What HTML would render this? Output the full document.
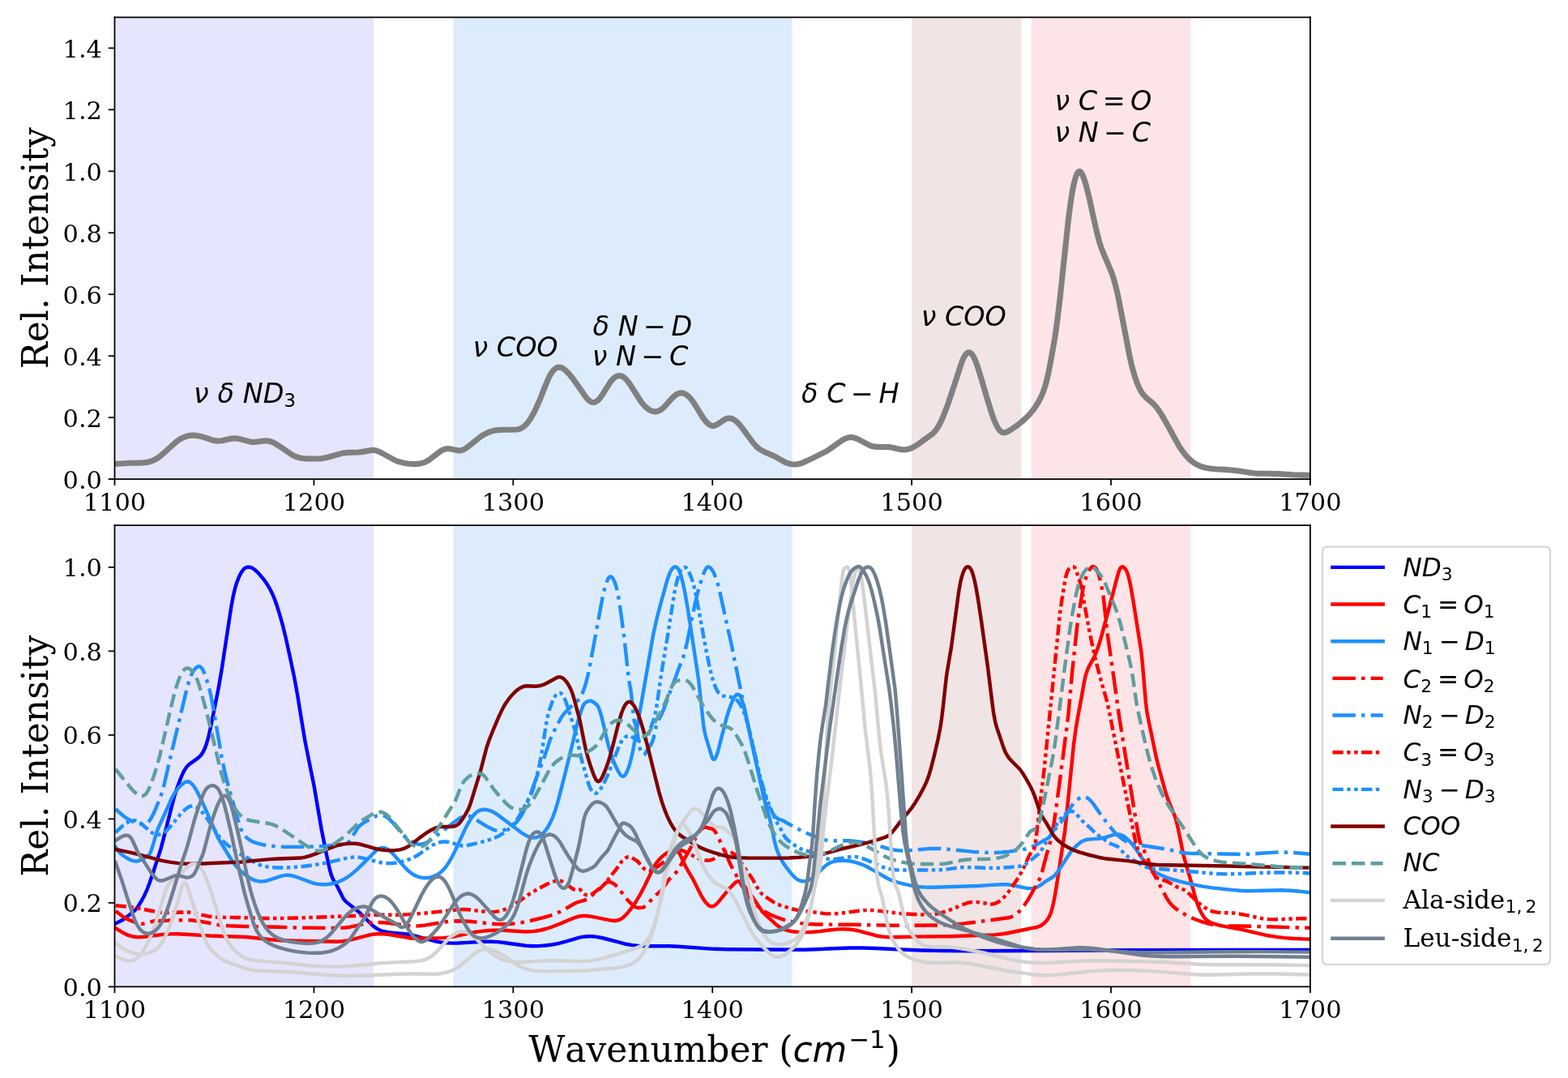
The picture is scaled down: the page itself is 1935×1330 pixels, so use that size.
<!DOCTYPE html>
<html><head><meta charset="utf-8"><title>Spectra</title>
<style>html,body{margin:0;padding:0;background:#fff;width:1935px;height:1330px;overflow:hidden}svg{display:block}</style>
</head><body>
<svg xmlns:xlink="http://www.w3.org/1999/xlink" width="1935" height="1330" viewBox="0 0 870.75 598.5" xmlns="http://www.w3.org/2000/svg" version="1.1">
<defs>
<style type="text/css">*{stroke-linejoin: round; stroke-linecap: butt}</style>
</defs>
<g id="figure_1">
<g id="patch_1">
<path d="M 0 598.5 
L 870.75 598.5 
L 870.75 0 
L 0 0 
z
" style="fill: #ffffff"/>
</g>
<g id="axes_1">
<g id="patch_2">
<path d="M 63.67 265.99 
L 727.60 265.99 
L 727.60 9.63 
L 63.67 9.63 
z
" style="fill: #ffffff"/>
</g>
<g id="patch_3">
<path d="M 63.67 265.99 
L 207.52 265.99 
L 207.52 9.63 
L 63.67 9.63 
z
" clip-path="url(#p91a4ffddc2)" style="fill: #e5e5fd"/>
</g>
<g id="patch_4">
<path d="M 251.78 265.99 
L 439.90 265.99 
L 439.90 9.63 
L 251.78 9.63 
z
" clip-path="url(#p91a4ffddc2)" style="fill: #ddecfc"/>
</g>
<g id="patch_5">
<path d="M 506.29 265.99 
L 567.15 265.99 
L 567.15 9.63 
L 506.29 9.63 
z
" clip-path="url(#p91a4ffddc2)" style="fill: #f0e4e4"/>
</g>
<g id="patch_6">
<path d="M 572.68 265.99 
L 661.21 265.99 
L 661.21 9.63 
L 572.68 9.63 
z
" clip-path="url(#p91a4ffddc2)" style="fill: #fde4e6"/>
</g>
<g id="matplotlib.axis_1">
<g id="xtick_1">
<g id="line2d_1">
<defs>
<path id="m1504cfccaf" d="M 0 0 
L 0 3.5 
" style="stroke: #000000; stroke-width: 0.8"/>
</defs>
<g>
<use xlink:href="#m1504cfccaf" x="63.67" y="265.99" style="stroke: #000000; stroke-width: 0.8"/>
</g>
</g>
<g id="text_1">
<text style="font-size: 13.7px; font-family: 'DejaVu Serif', serif; text-anchor: middle" x="63.67" y="283.40" transform="rotate(-0 63.67 283.40)">1100</text>
</g>
</g>
<g id="xtick_2">
<g id="line2d_2">
<g>
<use xlink:href="#m1504cfccaf" x="174.33" y="265.99" style="stroke: #000000; stroke-width: 0.8"/>
</g>
</g>
<g id="text_2">
<text style="font-size: 13.7px; font-family: 'DejaVu Serif', serif; text-anchor: middle" x="174.33" y="283.40" transform="rotate(-0 174.33 283.40)">1200</text>
</g>
</g>
<g id="xtick_3">
<g id="line2d_3">
<g>
<use xlink:href="#m1504cfccaf" x="284.98" y="265.99" style="stroke: #000000; stroke-width: 0.8"/>
</g>
</g>
<g id="text_3">
<text style="font-size: 13.7px; font-family: 'DejaVu Serif', serif; text-anchor: middle" x="284.98" y="283.40" transform="rotate(-0 284.98 283.40)">1300</text>
</g>
</g>
<g id="xtick_4">
<g id="line2d_4">
<g>
<use xlink:href="#m1504cfccaf" x="395.64" y="265.99" style="stroke: #000000; stroke-width: 0.8"/>
</g>
</g>
<g id="text_4">
<text style="font-size: 13.7px; font-family: 'DejaVu Serif', serif; text-anchor: middle" x="395.64" y="283.40" transform="rotate(-0 395.64 283.40)">1400</text>
</g>
</g>
<g id="xtick_5">
<g id="line2d_5">
<g>
<use xlink:href="#m1504cfccaf" x="506.29" y="265.99" style="stroke: #000000; stroke-width: 0.8"/>
</g>
</g>
<g id="text_5">
<text style="font-size: 13.7px; font-family: 'DejaVu Serif', serif; text-anchor: middle" x="506.29" y="283.40" transform="rotate(-0 506.29 283.40)">1500</text>
</g>
</g>
<g id="xtick_6">
<g id="line2d_6">
<g>
<use xlink:href="#m1504cfccaf" x="616.95" y="265.99" style="stroke: #000000; stroke-width: 0.8"/>
</g>
</g>
<g id="text_6">
<text style="font-size: 13.7px; font-family: 'DejaVu Serif', serif; text-anchor: middle" x="616.95" y="283.40" transform="rotate(-0 616.95 283.40)">1600</text>
</g>
</g>
<g id="xtick_7">
<g id="line2d_7">
<g>
<use xlink:href="#m1504cfccaf" x="727.60" y="265.99" style="stroke: #000000; stroke-width: 0.8"/>
</g>
</g>
<g id="text_7">
<text style="font-size: 13.7px; font-family: 'DejaVu Serif', serif; text-anchor: middle" x="727.60" y="283.40" transform="rotate(-0 727.60 283.40)">1700</text>
</g>
</g>
</g>
<g id="matplotlib.axis_2">
<g id="ytick_1">
<g id="line2d_8">
<defs>
<path id="m5d545ce8f8" d="M 0 0 
L -3.5 0 
" style="stroke: #000000; stroke-width: 0.8"/>
</defs>
<g>
<use xlink:href="#m5d545ce8f8" x="63.67" y="265.99" style="stroke: #000000; stroke-width: 0.8"/>
</g>
</g>
<g id="text_8">
<text style="font-size: 13.7px; font-family: 'DejaVu Serif', serif; text-anchor: end" x="56.67" y="271.19" transform="rotate(-0 56.67 271.19)">0.0</text>
</g>
</g>
<g id="ytick_2">
<g id="line2d_9">
<g>
<use xlink:href="#m5d545ce8f8" x="63.67" y="231.81" style="stroke: #000000; stroke-width: 0.8"/>
</g>
</g>
<g id="text_9">
<text style="font-size: 13.7px; font-family: 'DejaVu Serif', serif; text-anchor: end" x="56.67" y="237.01" transform="rotate(-0 56.67 237.01)">0.2</text>
</g>
</g>
<g id="ytick_3">
<g id="line2d_10">
<g>
<use xlink:href="#m5d545ce8f8" x="63.67" y="197.63" style="stroke: #000000; stroke-width: 0.8"/>
</g>
</g>
<g id="text_10">
<text style="font-size: 13.7px; font-family: 'DejaVu Serif', serif; text-anchor: end" x="56.67" y="202.83" transform="rotate(-0 56.67 202.83)">0.4</text>
</g>
</g>
<g id="ytick_4">
<g id="line2d_11">
<g>
<use xlink:href="#m5d545ce8f8" x="63.67" y="163.44" style="stroke: #000000; stroke-width: 0.8"/>
</g>
</g>
<g id="text_11">
<text style="font-size: 13.7px; font-family: 'DejaVu Serif', serif; text-anchor: end" x="56.67" y="168.65" transform="rotate(-0 56.67 168.65)">0.6</text>
</g>
</g>
<g id="ytick_5">
<g id="line2d_12">
<g>
<use xlink:href="#m5d545ce8f8" x="63.67" y="129.26" style="stroke: #000000; stroke-width: 0.8"/>
</g>
</g>
<g id="text_12">
<text style="font-size: 13.7px; font-family: 'DejaVu Serif', serif; text-anchor: end" x="56.67" y="134.47" transform="rotate(-0 56.67 134.47)">0.8</text>
</g>
</g>
<g id="ytick_6">
<g id="line2d_13">
<g>
<use xlink:href="#m5d545ce8f8" x="63.67" y="95.08" style="stroke: #000000; stroke-width: 0.8"/>
</g>
</g>
<g id="text_13">
<text style="font-size: 13.7px; font-family: 'DejaVu Serif', serif; text-anchor: end" x="56.67" y="100.28" transform="rotate(-0 56.67 100.28)">1.0</text>
</g>
</g>
<g id="ytick_7">
<g id="line2d_14">
<g>
<use xlink:href="#m5d545ce8f8" x="63.67" y="60.90" style="stroke: #000000; stroke-width: 0.8"/>
</g>
</g>
<g id="text_14">
<text style="font-size: 13.7px; font-family: 'DejaVu Serif', serif; text-anchor: end" x="56.67" y="66.10" transform="rotate(-0 56.67 66.10)">1.2</text>
</g>
</g>
<g id="ytick_8">
<g id="line2d_15">
<g>
<use xlink:href="#m5d545ce8f8" x="63.67" y="26.72" style="stroke: #000000; stroke-width: 0.8"/>
</g>
</g>
<g id="text_15">
<text style="font-size: 13.7px; font-family: 'DejaVu Serif', serif; text-anchor: end" x="56.67" y="31.92" transform="rotate(-0 56.67 31.92)">1.4</text>
</g>
</g>
<g id="text_16">
<text style="font-size: 19.8px; font-family: 'DejaVu Serif', serif; text-anchor: middle" x="26.48" y="137.81" transform="rotate(-90 26.48 137.81)">Rel. Intensity</text>
</g>
</g>
<g id="line2d_16">
<path d="M 63.67 257.62 
L 72.11 257.09 
L 77.17 257.02 
L 80.21 256.87 
L 82.23 256.56 
L 84.03 256.05 
L 85.72 255.34 
L 87.41 254.37 
L 89.1 253.15 
L 91.12 251.39 
L 97.76 245.37 
L 99.78 243.97 
L 101.58 242.99 
L 103.27 242.32 
L 104.96 241.90 
L 106.65 241.70 
L 108.33 241.72 
L 110.13 241.97 
L 112.27 242.49 
L 115.2 243.44 
L 118.46 244.47 
L 120.15 244.78 
L 121.61 244.83 
L 123.18 244.65 
L 125.43 244.14 
L 128.7 243.42 
L 130.27 243.31 
L 131.73 243.44 
L 133.53 243.84 
L 139.5 245.41 
L 140.96 245.44 
L 142.87 245.26 
L 147.37 244.72 
L 148.83 244.81 
L 150.18 245.11 
L 151.65 245.67 
L 153.33 246.55 
L 155.47 247.92 
L 162.67 252.83 
L 164.36 253.57 
L 166.16 254.10 
L 168.18 254.46 
L 170.66 254.64 
L 175.5 254.71 
L 178.31 254.59 
L 180.33 254.28 
L 182.7 253.69 
L 190.57 251.50 
L 192.6 251.29 
L 195.63 251.23 
L 199.23 251.12 
L 201.26 250.82 
L 206.32 249.94 
L 207.78 249.98 
L 209.02 250.22 
L 210.48 250.75 
L 212.28 251.66 
L 219.48 255.60 
L 221.73 256.40 
L 224.1 257.01 
L 226.57 257.42 
L 229.16 257.62 
L 231.52 257.59 
L 233.43 257.35 
L 235.12 256.91 
L 236.7 256.25 
L 238.16 255.40 
L 240.07 253.99 
L 244.8 250.38 
L 246.26 249.60 
L 247.5 249.19 
L 248.62 249.06 
L 249.86 249.17 
L 251.66 249.57 
L 254.13 250.11 
L 255.37 250.15 
L 256.38 249.98 
L 257.51 249.55 
L 258.86 248.76 
L 260.55 247.49 
L 266.73 242.53 
L 268.98 241.13 
L 271.01 240.12 
L 272.81 239.45 
L 274.72 238.99 
L 276.86 238.71 
L 279.45 238.60 
L 287.21 238.48 
L 288.56 238.12 
L 289.8 237.55 
L 290.92 236.80 
L 292.05 235.78 
L 293.28 234.33 
L 294.63 232.38 
L 296.1 229.86 
L 297.78 226.48 
L 299.7 222.12 
L 302.28 215.60 
L 304.42 210.45 
L 305.66 207.99 
L 306.78 206.26 
L 307.8 205.10 
L 308.7 204.39 
L 309.6 203.98 
L 310.38 203.86 
L 311.17 203.94 
L 312.07 204.27 
L 313.08 204.87 
L 314.32 205.89 
L 315.9 207.49 
L 317.7 209.66 
L 319.83 212.60 
L 325.68 220.95 
L 326.92 222.21 
L 327.93 222.94 
L 328.83 223.33 
L 329.62 223.42 
L 330.41 223.26 
L 331.2 222.87 
L 332.1 222.17 
L 333.11 221.09 
L 334.35 219.42 
L 336.15 216.54 
L 338.73 212.42 
L 339.97 210.84 
L 341.1 209.74 
L 342.11 209.04 
L 343.01 208.66 
L 343.91 208.53 
L 344.81 208.65 
L 345.71 209.01 
L 346.72 209.69 
L 347.85 210.77 
L 349.08 212.29 
L 350.55 214.48 
L 355.95 222.96 
L 357.63 224.99 
L 359.1 226.43 
L 360.45 227.45 
L 361.68 228.11 
L 362.81 228.46 
L 363.82 228.56 
L 364.83 228.43 
L 365.85 228.10 
L 366.97 227.50 
L 368.21 226.56 
L 369.56 225.23 
L 372.03 222.38 
L 373.95 220.34 
L 375.18 219.33 
L 376.31 218.67 
L 377.32 218.31 
L 378.33 218.18 
L 379.35 218.30 
L 380.36 218.67 
L 381.37 219.27 
L 382.5 220.22 
L 383.73 221.58 
L 385.08 223.40 
L 387 226.43 
L 390.6 232.20 
L 392.06 234.09 
L 393.18 235.22 
L 394.2 235.95 
L 395.1 236.33 
L 395.88 236.44 
L 396.67 236.33 
L 397.68 235.94 
L 398.92 235.21 
L 402.86 232.69 
L 403.98 232.30 
L 405 232.17 
L 405.9 232.26 
L 406.8 232.56 
L 407.81 233.12 
L 408.93 234.00 
L 410.28 235.35 
L 411.97 237.37 
L 414.45 240.74 
L 418.27 245.93 
L 419.96 247.83 
L 421.31 249.03 
L 422.66 249.93 
L 424.23 250.71 
L 430.42 253.48 
L 436.27 256.76 
L 438.07 257.41 
L 439.65 257.76 
L 441.22 257.88 
L 442.68 257.77 
L 444.26 257.42 
L 446.17 256.74 
L 448.87 255.52 
L 459.22 250.39 
L 461.47 248.85 
L 467.66 244.44 
L 469.35 243.57 
L 470.81 243.05 
L 472.16 242.82 
L 473.4 242.85 
L 474.63 243.11 
L 476.1 243.67 
L 478.01 244.65 
L 482.85 247.24 
L 484.42 247.77 
L 485.88 248.02 
L 487.8 248.10 
L 493.53 248.15 
L 495.56 248.54 
L 500.62 249.63 
L 502.2 249.69 
L 503.66 249.53 
L 505.23 249.12 
L 506.81 248.48 
L 508.5 247.56 
L 510.75 246.03 
L 518.06 240.65 
L 519.3 239.33 
L 520.42 237.82 
L 521.55 235.96 
L 522.9 233.25 
L 524.47 229.55 
L 526.27 224.74 
L 528.52 218.07 
L 534.37 200.26 
L 535.38 198.15 
L 536.28 196.77 
L 536.96 196.08 
L 537.63 195.71 
L 538.2 195.65 
L 538.76 195.83 
L 539.32 196.24 
L 540 197.02 
L 540.78 198.32 
L 541.68 200.29 
L 542.81 203.34 
L 544.5 208.67 
L 548.21 221.38 
L 550.57 229.07 
L 552.03 233.16 
L 553.27 235.97 
L 554.28 237.77 
L 555.18 238.97 
L 555.97 239.67 
L 556.76 240.06 
L 557.55 240.18 
L 558.45 240.05 
L 559.46 239.66 
L 561.03 238.78 
L 563.96 236.85 
L 566.66 234.80 
L 569.13 232.64 
L 571.5 230.28 
L 573.41 228.06 
L 575.1 225.75 
L 576.56 223.37 
L 578.02 220.57 
L 579.26 217.71 
L 580.27 214.80 
L 581.28 211.16 
L 582.3 206.68 
L 583.76 199.04 
L 585.9 186.91 
L 587.13 178.12 
L 588.6 165.89 
L 590.73 145.82 
L 593.32 121.79 
L 594.56 112.25 
L 595.57 105.96 
L 596.47 101.54 
L 597.26 98.61 
L 597.93 96.81 
L 598.5 95.80 
L 598.95 95.33 
L 599.4 95.15 
L 599.85 95.26 
L 600.3 95.66 
L 600.86 96.52 
L 601.53 97.99 
L 602.43 100.58 
L 603.56 104.52 
L 605.02 110.52 
L 607.38 121.34 
L 609.41 130.26 
L 610.65 134.79 
L 611.88 138.47 
L 613.35 142.07 
L 617.28 151.29 
L 618.52 155.02 
L 619.65 159.07 
L 620.77 163.91 
L 622.23 171.27 
L 627.41 198.32 
L 628.87 204.46 
L 630.22 209.15 
L 631.46 212.67 
L 632.7 215.51 
L 633.82 217.55 
L 634.95 219.14 
L 636.18 220.50 
L 637.76 221.86 
L 640.57 224.23 
L 641.92 225.74 
L 643.5 227.86 
L 645.3 230.68 
L 647.66 234.84 
L 654.86 247.84 
L 656.77 250.64 
L 658.57 252.90 
L 660.37 254.80 
L 662.06 256.26 
L 663.75 257.44 
L 665.43 258.35 
L 667.23 259.08 
L 669.26 259.64 
L 671.62 260.06 
L 674.88 260.41 
L 680.4 260.73 
L 685.01 261.09 
L 688.61 261.60 
L 695.7 262.68 
L 698.96 262.89 
L 703.91 262.94 
L 709.76 263.06 
L 718.31 263.56 
L 724.38 263.77 
L 727.65 263.83 
L 727.65 263.83 
" clip-path="url(#p91a4ffddc2)" style="fill: none; stroke: #808080; stroke-width: 3.2; stroke-linecap: square"/>
</g>
<g id="patch_7">
<path d="M 63.67 265.99 
L 63.67 9.63 
" style="fill: none; stroke: #000000; stroke-width: 0.8; stroke-linejoin: miter; stroke-linecap: square"/>
</g>
<g id="patch_8">
<path d="M 727.60 265.99 
L 727.60 9.63 
" style="fill: none; stroke: #000000; stroke-width: 0.8; stroke-linejoin: miter; stroke-linecap: square"/>
</g>
<g id="patch_9">
<path d="M 63.67 265.99 
L 727.60 265.99 
" style="fill: none; stroke: #000000; stroke-width: 0.8; stroke-linejoin: miter; stroke-linecap: square"/>
</g>
<g id="patch_10">
<path d="M 63.67 9.63 
L 727.60 9.63 
" style="fill: none; stroke: #000000; stroke-width: 0.8; stroke-linejoin: miter; stroke-linecap: square"/>
</g>
</g>
<g id="axes_2">
<g id="patch_11">
<path d="M 63.67 547.83 
L 727.60 547.83 
L 727.60 291.64 
L 63.67 291.64 
z
" style="fill: #ffffff"/>
</g>
<g id="patch_12">
<path d="M 63.67 547.83 
L 207.52 547.83 
L 207.52 291.64 
L 63.67 291.64 
z
" clip-path="url(#p2ca9b5ae20)" style="fill: #e5e5fd"/>
</g>
<g id="patch_13">
<path d="M 251.78 547.83 
L 439.90 547.83 
L 439.90 291.64 
L 251.78 291.64 
z
" clip-path="url(#p2ca9b5ae20)" style="fill: #ddecfc"/>
</g>
<g id="patch_14">
<path d="M 506.29 547.83 
L 567.15 547.83 
L 567.15 291.64 
L 506.29 291.64 
z
" clip-path="url(#p2ca9b5ae20)" style="fill: #f0e4e4"/>
</g>
<g id="patch_15">
<path d="M 572.68 547.83 
L 661.21 547.83 
L 661.21 291.64 
L 572.68 291.64 
z
" clip-path="url(#p2ca9b5ae20)" style="fill: #fde4e6"/>
</g>
<g id="matplotlib.axis_3">
<g id="xtick_8">
<g id="line2d_17">
<g>
<use xlink:href="#m1504cfccaf" x="63.67" y="547.83" style="stroke: #000000; stroke-width: 0.8"/>
</g>
</g>
<g id="text_17">
<text style="font-size: 13.7px; font-family: 'DejaVu Serif', serif; text-anchor: middle" x="63.67" y="565.23" transform="rotate(-0 63.67 565.23)">1100</text>
</g>
</g>
<g id="xtick_9">
<g id="line2d_18">
<g>
<use xlink:href="#m1504cfccaf" x="174.33" y="547.83" style="stroke: #000000; stroke-width: 0.8"/>
</g>
</g>
<g id="text_18">
<text style="font-size: 13.7px; font-family: 'DejaVu Serif', serif; text-anchor: middle" x="174.33" y="565.23" transform="rotate(-0 174.33 565.23)">1200</text>
</g>
</g>
<g id="xtick_10">
<g id="line2d_19">
<g>
<use xlink:href="#m1504cfccaf" x="284.98" y="547.83" style="stroke: #000000; stroke-width: 0.8"/>
</g>
</g>
<g id="text_19">
<text style="font-size: 13.7px; font-family: 'DejaVu Serif', serif; text-anchor: middle" x="284.98" y="565.23" transform="rotate(-0 284.98 565.23)">1300</text>
</g>
</g>
<g id="xtick_11">
<g id="line2d_20">
<g>
<use xlink:href="#m1504cfccaf" x="395.64" y="547.83" style="stroke: #000000; stroke-width: 0.8"/>
</g>
</g>
<g id="text_20">
<text style="font-size: 13.7px; font-family: 'DejaVu Serif', serif; text-anchor: middle" x="395.64" y="565.23" transform="rotate(-0 395.64 565.23)">1400</text>
</g>
</g>
<g id="xtick_12">
<g id="line2d_21">
<g>
<use xlink:href="#m1504cfccaf" x="506.29" y="547.83" style="stroke: #000000; stroke-width: 0.8"/>
</g>
</g>
<g id="text_21">
<text style="font-size: 13.7px; font-family: 'DejaVu Serif', serif; text-anchor: middle" x="506.29" y="565.23" transform="rotate(-0 506.29 565.23)">1500</text>
</g>
</g>
<g id="xtick_13">
<g id="line2d_22">
<g>
<use xlink:href="#m1504cfccaf" x="616.95" y="547.83" style="stroke: #000000; stroke-width: 0.8"/>
</g>
</g>
<g id="text_22">
<text style="font-size: 13.7px; font-family: 'DejaVu Serif', serif; text-anchor: middle" x="616.95" y="565.23" transform="rotate(-0 616.95 565.23)">1600</text>
</g>
</g>
<g id="xtick_14">
<g id="line2d_23">
<g>
<use xlink:href="#m1504cfccaf" x="727.60" y="547.83" style="stroke: #000000; stroke-width: 0.8"/>
</g>
</g>
<g id="text_23">
<text style="font-size: 13.7px; font-family: 'DejaVu Serif', serif; text-anchor: middle" x="727.60" y="565.23" transform="rotate(-0 727.60 565.23)">1700</text>
</g>
</g>
<g id="text_24">
<!-- Wavenumber ($cm^{-1}$) -->
<g transform="translate(293.4700 589.6600) scale(0.9875)">
<text>
<tspan x="0" y="-0.13" style="font-size: 20px; font-family: 'DejaVu Serif'">W</tspan>
<tspan x="20.55" y="-0.13" style="font-size: 20px; font-family: 'DejaVu Serif'">a</tspan>
<tspan x="32.48" y="-0.13" style="font-size: 20px; font-family: 'DejaVu Serif'">v</tspan>
<tspan x="43.77" y="-0.13" style="font-size: 20px; font-family: 'DejaVu Serif'">e</tspan>
<tspan x="55.61" y="-0.13" style="font-size: 20px; font-family: 'DejaVu Serif'">n</tspan>
<tspan x="68.49" y="-0.13" style="font-size: 20px; font-family: 'DejaVu Serif'">u</tspan>
<tspan x="81.37" y="-0.13" style="font-size: 20px; font-family: 'DejaVu Serif'">m</tspan>
<tspan x="100.34" y="-0.13" style="font-size: 20px; font-family: 'DejaVu Serif'">b</tspan>
<tspan x="113.14" y="-0.13" style="font-size: 20px; font-family: 'DejaVu Serif'">e</tspan>
<tspan x="124.98" y="-0.13" style="font-size: 20px; font-family: 'DejaVu Serif'">r</tspan>
<tspan x="134.54" y="-0.13" style="font-size: 20px; font-family: 'DejaVu Serif'"> </tspan>
<tspan x="140.89" y="-0.13" style="font-size: 20px; font-family: 'DejaVu Serif'">(</tspan>
<tspan x="201.29" y="-0.13" style="font-size: 20px; font-family: 'DejaVu Serif'">)</tspan>
<tspan x="148.70" y="-0.13" style="font-style: oblique; font-size: 20px; font-family: 'DejaVu Sans'">c</tspan>
<tspan x="159.69" y="-0.13" style="font-style: oblique; font-size: 20px; font-family: 'DejaVu Sans'">m</tspan>
<tspan x="180.11" y="-7.79" style="font-size: 14px; font-family: 'DejaVu Sans'">−</tspan>
<tspan x="191.84" y="-7.79" style="font-size: 14px; font-family: 'DejaVu Sans'">1</tspan>
</text>
</g>
</g>
</g>
<g id="matplotlib.axis_4">
<g id="ytick_9">
<g id="line2d_24">
<g>
<use xlink:href="#m5d545ce8f8" x="63.67" y="547.83" style="stroke: #000000; stroke-width: 0.8"/>
</g>
</g>
<g id="text_25">
<text style="font-size: 13.7px; font-family: 'DejaVu Serif', serif; text-anchor: end" x="56.67" y="553.03" transform="rotate(-0 56.67 553.03)">0.0</text>
</g>
</g>
<g id="ytick_10">
<g id="line2d_25">
<g>
<use xlink:href="#m5d545ce8f8" x="63.67" y="501.25" style="stroke: #000000; stroke-width: 0.8"/>
</g>
</g>
<g id="text_26">
<text style="font-size: 13.7px; font-family: 'DejaVu Serif', serif; text-anchor: end" x="56.67" y="506.45" transform="rotate(-0 56.67 506.45)">0.2</text>
</g>
</g>
<g id="ytick_11">
<g id="line2d_26">
<g>
<use xlink:href="#m5d545ce8f8" x="63.67" y="454.67" style="stroke: #000000; stroke-width: 0.8"/>
</g>
</g>
<g id="text_27">
<text style="font-size: 13.7px; font-family: 'DejaVu Serif', serif; text-anchor: end" x="56.67" y="459.87" transform="rotate(-0 56.67 459.87)">0.4</text>
</g>
</g>
<g id="ytick_12">
<g id="line2d_27">
<g>
<use xlink:href="#m5d545ce8f8" x="63.67" y="408.09" style="stroke: #000000; stroke-width: 0.8"/>
</g>
</g>
<g id="text_28">
<text style="font-size: 13.7px; font-family: 'DejaVu Serif', serif; text-anchor: end" x="56.67" y="413.29" transform="rotate(-0 56.67 413.29)">0.6</text>
</g>
</g>
<g id="ytick_13">
<g id="line2d_28">
<g>
<use xlink:href="#m5d545ce8f8" x="63.67" y="361.51" style="stroke: #000000; stroke-width: 0.8"/>
</g>
</g>
<g id="text_29">
<text style="font-size: 13.7px; font-family: 'DejaVu Serif', serif; text-anchor: end" x="56.67" y="366.71" transform="rotate(-0 56.67 366.71)">0.8</text>
</g>
</g>
<g id="ytick_14">
<g id="line2d_29">
<g>
<use xlink:href="#m5d545ce8f8" x="63.67" y="314.93" style="stroke: #000000; stroke-width: 0.8"/>
</g>
</g>
<g id="text_30">
<text style="font-size: 13.7px; font-family: 'DejaVu Serif', serif; text-anchor: end" x="56.67" y="320.13" transform="rotate(-0 56.67 320.13)">1.0</text>
</g>
</g>
<g id="text_31">
<text style="font-size: 19.8px; font-family: 'DejaVu Serif', serif; text-anchor: middle" x="26.48" y="419.73" transform="rotate(-90 26.48 419.73)">Rel. Intensity</text>
</g>
</g>
<g id="line2d_30">
<path d="M 64.21 512.68 
L 67.25 511.22 
L 69.05 510.08 
L 71.86 507.97 
L 74.45 505.86 
L 75.69 504.54 
L 76.92 502.87 
L 78.39 500.48 
L 80.19 497.12 
L 81.65 493.91 
L 83.00 490.37 
L 85.59 482.72 
L 89.30 471.34 
L 90.87 465.38 
L 96.72 442.40 
L 98.52 436.95 
L 100.44 431.83 
L 101.79 428.82 
L 102.91 426.83 
L 103.92 425.49 
L 105.05 424.38 
L 106.40 423.38 
L 109.89 420.95 
L 111.12 419.76 
L 112.14 418.50 
L 113.04 417.01 
L 113.94 415.02 
L 114.84 412.42 
L 115.85 408.75 
L 116.97 403.82 
L 119.79 389.86 
L 121.59 380.71 
L 123.16 371.41 
L 125.30 357.30 
L 128.34 337.28 
L 129.57 330.61 
L 130.59 326.37 
L 131.60 323.13 
L 132.72 320.32 
L 133.85 318.07 
L 134.86 316.54 
L 135.65 315.70 
L 136.44 315.16 
L 137.22 314.88 
L 138.12 314.81 
L 139.02 314.96 
L 140.04 315.36 
L 141.16 316.06 
L 142.40 317.11 
L 143.97 318.75 
L 146.34 321.55 
L 148.14 324.04 
L 149.71 326.61 
L 151.06 329.24 
L 152.30 332.13 
L 153.65 335.87 
L 155.34 341.25 
L 157.14 347.70 
L 158.71 354.16 
L 161.52 367.01 
L 163.66 377.28 
L 165.24 386.05 
L 167.49 400.02 
L 169.40 411.47 
L 171.09 420.02 
L 174.46 436.63 
L 176.26 447.21 
L 178.62 460.94 
L 181.44 475.02 
L 183.01 482.33 
L 183.91 485.59 
L 184.70 487.64 
L 185.60 489.30 
L 187.40 492.32 
L 190.66 498.86 
L 191.67 500.09 
L 192.91 501.24 
L 196.96 504.47 
L 200.22 507.17 
L 202.36 509.27 
L 206.86 513.78 
L 208.44 515.02 
L 209.90 515.91 
L 211.47 516.61 
L 213.27 517.17 
L 215.41 517.58 
L 218.34 517.91 
L 226.10 518.66 
L 229.25 519.31 
L 233.64 520.47 
L 241.06 522.43 
L 244.55 523.11 
L 247.59 523.48 
L 250.85 523.64 
L 254.67 523.60 
L 259.74 523.30 
L 268.74 522.75 
L 272.90 522.75 
L 276.50 522.97 
L 280.55 523.47 
L 292.02 525.02 
L 295.74 525.23 
L 299.22 525.21 
L 302.82 524.95 
L 306.54 524.46 
L 310.36 523.73 
L 314.19 522.76 
L 318.46 521.45 
L 321.84 520.49 
L 324.20 520.05 
L 326.56 519.85 
L 328.81 519.88 
L 331.29 520.13 
L 334.10 520.65 
L 337.70 521.54 
L 348.05 524.27 
L 351.20 524.77 
L 354.69 525.10 
L 358.74 525.25 
L 364.70 525.23 
L 371.67 525.24 
L 376.51 525.51 
L 396.42 526.88 
L 404.19 527.03 
L 446.94 527.28 
L 455.49 526.95 
L 472.02 526.26 
L 478.66 526.24 
L 486.31 526.47 
L 500.37 527.15 
L 511.96 527.60 
L 524.56 527.85 
L 539.64 527.92 
L 593.75 527.77 
L 629.86 527.49 
L 727.62 527.40 
L 727.62 527.40 
" clip-path="url(#p2ca9b5ae20)" style="fill: none; stroke: #0000ff; stroke-width: 2; stroke-linecap: square"/>
</g>
<g id="line2d_31">
<path d="M 64.21 515.29 
L 68.04 517.72 
L 70.06 518.76 
L 71.97 519.49 
L 73.89 519.98 
L 75.69 520.22 
L 77.71 520.27 
L 80.30 520.09 
L 84.57 519.55 
L 90.65 518.81 
L 94.47 518.56 
L 98.41 518.54 
L 103.14 518.76 
L 119.00 519.68 
L 136.55 520.20 
L 142.06 520.80 
L 150.16 521.68 
L 156.35 522.09 
L 163.89 522.35 
L 187.51 522.81 
L 190.44 522.59 
L 192.91 522.19 
L 195.95 521.46 
L 205.40 519.00 
L 208.21 518.59 
L 210.69 518.44 
L 213.27 518.52 
L 216.31 518.85 
L 220.14 519.51 
L 227.00 520.73 
L 229.81 520.97 
L 233.07 521.01 
L 246.24 520.71 
L 249.27 520.42 
L 252.42 519.88 
L 258.05 518.63 
L 263.00 517.64 
L 267.39 516.98 
L 271.55 516.59 
L 275.60 516.42 
L 279.54 516.48 
L 284.60 516.81 
L 291.57 517.25 
L 294.72 517.21 
L 297.31 516.96 
L 300.01 516.48 
L 303.05 515.70 
L 306.54 514.58 
L 310.81 512.95 
L 317.00 510.33 
L 319.92 509.19 
L 321.72 508.72 
L 323.41 508.52 
L 325.32 508.52 
L 327.57 508.73 
L 330.39 509.23 
L 339.84 511.13 
L 341.52 511.17 
L 342.87 510.99 
L 344.11 510.58 
L 345.24 509.97 
L 346.36 509.09 
L 347.71 507.75 
L 349.51 505.64 
L 351.76 502.68 
L 353.56 499.95 
L 355.59 496.46 
L 358.06 491.73 
L 361.10 485.42 
L 363.12 481.37 
L 364.36 479.33 
L 365.60 477.70 
L 367.06 476.16 
L 368.86 474.61 
L 370.44 473.52 
L 371.90 472.78 
L 373.14 472.38 
L 374.26 472.23 
L 375.27 472.31 
L 375.95 472.56 
L 376.62 473.07 
L 377.30 473.91 
L 378.09 475.31 
L 379.44 478.30 
L 381.01 481.66 
L 382.47 484.14 
L 384.61 487.71 
L 386.41 491.31 
L 389.11 496.69 
L 390.69 499.32 
L 392.04 501.18 
L 393.16 502.35 
L 394.06 502.98 
L 394.85 503.26 
L 395.52 503.27 
L 396.31 503.04 
L 397.21 502.49 
L 398.22 501.58 
L 399.57 500.04 
L 405.31 493.03 
L 408.46 489.88 
L 409.25 489.41 
L 409.92 489.26 
L 410.49 489.35 
L 411.16 489.71 
L 412.06 490.51 
L 413.75 492.42 
L 415.89 495.12 
L 417.91 498.06 
L 423.31 506.16 
L 424.66 507.49 
L 429.05 511.48 
L 431.07 513.36 
L 432.65 514.51 
L 434.34 515.45 
L 436.14 516.20 
L 438.05 516.77 
L 440.30 517.19 
L 443.00 517.45 
L 446.60 517.56 
L 450.54 517.46 
L 454.92 517.11 
L 460.66 516.41 
L 465.61 515.88 
L 468.65 515.77 
L 471.24 515.90 
L 474.05 516.27 
L 477.09 516.89 
L 480.80 517.89 
L 486.76 519.50 
L 489.46 519.98 
L 492.27 520.24 
L 495.65 520.31 
L 501.16 520.17 
L 508.59 520.04 
L 527.82 519.82 
L 551.90 519.02 
L 555.84 518.64 
L 559.66 518.04 
L 565.06 516.93 
L 572.37 515.45 
L 575.86 514.78 
L 577.32 514.24 
L 578.56 513.56 
L 579.80 512.61 
L 580.92 511.46 
L 581.94 510.15 
L 582.72 508.79 
L 583.51 506.95 
L 584.30 504.43 
L 585.09 501.09 
L 586.10 495.71 
L 587.45 487.06 
L 590.49 467.09 
L 591.39 461.07 
L 592.17 453.89 
L 596.22 413.61 
L 597.46 404.41 
L 598.47 398.47 
L 600.72 386.35 
L 602.19 378 
L 602.97 374.69 
L 603.76 372.24 
L 604.66 370.16 
L 606.01 367.71 
L 607.70 364.62 
L 608.82 362.01 
L 610.06 358.55 
L 611.52 353.78 
L 613.44 346.68 
L 617.82 330.22 
L 620.52 320.01 
L 621.42 316.98 
L 621.99 315.70 
L 622.55 314.98 
L 623.00 314.72 
L 623.45 314.69 
L 623.90 314.85 
L 624.46 315.30 
L 625.14 316.17 
L 625.81 317.49 
L 626.49 319.39 
L 627.16 321.97 
L 628.06 326.33 
L 629.41 334.19 
L 633.69 361.25 
L 634.36 367.36 
L 635.15 376.71 
L 636.27 389.95 
L 636.95 395.25 
L 637.74 399.58 
L 640.55 413.04 
L 642.12 420.64 
L 643.59 426.50 
L 646.96 438.71 
L 648.42 443.33 
L 649.55 446.23 
L 652.36 452.98 
L 653.26 455.95 
L 654.27 460.14 
L 655.51 466.32 
L 657.20 474.72 
L 658.21 478.45 
L 661.14 488.39 
L 663.95 498.86 
L 665.19 502.52 
L 666.42 505.48 
L 667.55 507.63 
L 668.67 509.29 
L 669.80 510.54 
L 670.92 511.45 
L 672.16 512.15 
L 673.74 512.77 
L 676.21 513.49 
L 679.36 514.16 
L 690.05 516.22 
L 703.55 519.32 
L 708.61 520.14 
L 713.45 520.71 
L 718.74 521.09 
L 726.05 521.37 
L 727.62 521.41 
L 727.62 521.41 
" clip-path="url(#p2ca9b5ae20)" style="fill: none; stroke: #ff0000; stroke-width: 2; stroke-linecap: square"/>
</g>
<g id="line2d_32">
<path d="M 64.12 470.07 
L 65.81 472.64 
L 66.82 473.78 
L 68.06 474.81 
L 70.2 476.21 
L 72.22 477.32 
L 73.68 477.87 
L 74.92 478.11 
L 76.05 478.11 
L 77.06 477.90 
L 78.07 477.48 
L 79.76 476.49 
L 81.33 475.65 
L 82.23 475.13 
L 82.8 474.57 
L 83.36 473.68 
L 83.92 472.36 
L 84.71 469.89 
L 87.3 461.21 
L 88.42 458.54 
L 92.81 448.92 
L 94.95 444.01 
L 96.41 441.24 
L 97.76 439.13 
L 99.11 437.43 
L 100.57 435.96 
L 102.26 434.58 
L 103.16 434.09 
L 103.95 433.92 
L 104.62 433.99 
L 105.41 434.31 
L 106.2 434.89 
L 107.1 435.82 
L 108.11 437.19 
L 109.35 439.26 
L 111.03 442.56 
L 113.85 448.60 
L 118.01 458.16 
L 120.93 464.89 
L 122.28 467.22 
L 126.9 474.75 
L 128.92 478.02 
L 130.61 480.28 
L 132.41 482.30 
L 134.43 484.23 
L 136.68 486.07 
L 138.6 487.38 
L 140.28 488.28 
L 141.86 488.88 
L 143.43 489.23 
L 145.01 489.35 
L 146.7 489.25 
L 148.5 488.90 
L 150.63 488.24 
L 156.82 486.18 
L 158.51 485.92 
L 160.08 485.91 
L 161.77 486.12 
L 163.68 486.57 
L 165.93 487.34 
L 173.92 490.33 
L 176.17 490.79 
L 178.42 491.03 
L 180.67 491.04 
L 182.92 490.83 
L 185.17 490.39 
L 187.42 489.73 
L 189.56 488.87 
L 191.7 487.76 
L 193.72 486.47 
L 195.86 484.84 
L 198.45 482.57 
L 201.71 479.39 
L 209.13 472.00 
L 210.37 471.22 
L 211.38 470.83 
L 212.28 470.68 
L 213.3 470.75 
L 214.31 471.05 
L 215.43 471.63 
L 216.67 472.54 
L 218.13 473.92 
L 220.05 476.07 
L 225 481.79 
L 226.91 483.61 
L 228.6 484.93 
L 230.28 485.95 
L 231.86 486.66 
L 233.43 487.13 
L 235.12 487.41 
L 236.81 487.44 
L 238.38 487.26 
L 240.07 486.83 
L 241.76 486.16 
L 243.33 485.30 
L 244.8 484.23 
L 246.15 482.95 
L 247.5 481.36 
L 248.96 479.28 
L 250.53 476.64 
L 252.33 473.16 
L 254.81 467.81 
L 258.41 460.06 
L 260.32 456.49 
L 261.9 454.01 
L 263.25 452.28 
L 264.37 451.17 
L 265.5 450.36 
L 266.62 449.83 
L 267.75 449.54 
L 268.98 449.45 
L 270.33 449.57 
L 271.8 449.94 
L 273.37 450.57 
L 275.06 451.50 
L 277.2 452.98 
L 285.97 459.60 
L 289.8 462.46 
L 291.82 463.71 
L 293.51 464.50 
L 294.97 464.94 
L 296.21 465.09 
L 297.45 465.02 
L 298.57 464.73 
L 299.7 464.19 
L 300.82 463.39 
L 301.95 462.30 
L 303.18 460.75 
L 304.42 458.86 
L 305.77 456.37 
L 307.01 453.62 
L 308.13 450.60 
L 309.37 446.61 
L 311.17 439.93 
L 315.33 423.46 
L 320.73 401.27 
L 322.87 394.28 
L 323.77 391.94 
L 324.45 390.79 
L 325.12 390.11 
L 326.02 389.58 
L 327.03 389.20 
L 327.82 389.12 
L 328.5 389.27 
L 329.4 389.74 
L 330.97 390.89 
L 331.65 391.58 
L 332.32 392.63 
L 332.88 393.92 
L 333.56 396.04 
L 334.57 400.07 
L 337.83 413.82 
L 339.3 418.68 
L 340.65 422.44 
L 342.11 425.86 
L 343.57 428.70 
L 344.47 430.07 
L 345.15 430.75 
L 345.71 431.01 
L 346.16 430.99 
L 346.61 430.76 
L 347.17 430.20 
L 347.85 429.14 
L 348.63 427.40 
L 349.53 424.78 
L 350.55 421.06 
L 351.56 416.46 
L 352.8 409.72 
L 362.92 351.50 
L 364.61 343.98 
L 366.52 336.54 
L 370.57 321.91 
L 371.7 318.74 
L 372.6 316.84 
L 373.38 315.67 
L 374.06 315.04 
L 374.62 314.78 
L 375.18 314.75 
L 375.75 314.95 
L 376.31 315.43 
L 376.87 316.24 
L 377.55 317.74 
L 378.33 320.13 
L 379.23 323.64 
L 380.36 329.01 
L 381.71 336.63 
L 383.4 347.52 
L 387 371.23 
L 388.01 378.05 
L 388.8 385.15 
L 390.6 402.23 
L 391.27 406.22 
L 392.06 409.45 
L 395.32 420.24 
L 395.88 421.30 
L 396.22 421.60 
L 396.56 421.62 
L 396.9 421.40 
L 397.35 420.76 
L 397.91 419.49 
L 398.7 417.06 
L 399.93 412.38 
L 403.65 397.85 
L 405.11 393.30 
L 406.46 389.76 
L 407.47 387.62 
L 408.26 386.40 
L 408.93 385.74 
L 409.5 385.49 
L 409.95 385.50 
L 410.4 385.71 
L 410.85 386.16 
L 411.41 387.10 
L 411.97 388.52 
L 412.76 391.25 
L 414.11 397.01 
L 417.82 414.29 
L 424.35 443.66 
L 426.26 450.26 
L 427.61 455.18 
L 428.62 459.83 
L 430.31 467.98 
L 431.21 471.13 
L 432.22 473.86 
L 433.46 476.50 
L 434.81 478.86 
L 436.5 481.32 
L 439.31 484.96 
L 441 486.81 
L 442.23 487.86 
L 443.47 488.62 
L 444.6 489.06 
L 445.72 489.26 
L 446.85 489.25 
L 448.08 489.01 
L 449.32 488.53 
L 450.67 487.77 
L 452.13 486.67 
L 453.82 485.11 
L 458.43 480.59 
L 459.9 479.61 
L 461.36 478.89 
L 462.93 478.35 
L 464.73 477.97 
L 466.76 477.76 
L 469.01 477.76 
L 471.48 478.00 
L 474.07 478.48 
L 476.55 479.16 
L 479.02 480.07 
L 481.61 481.28 
L 484.53 482.90 
L 493.2 487.91 
L 495.78 488.97 
L 498.82 489.97 
L 502.42 490.91 
L 506.58 491.77 
L 510.3 492.33 
L 513.45 492.57 
L 517.05 492.61 
L 525.15 492.39 
L 543.03 491.86 
L 550.8 491.34 
L 555.97 491.05 
L 559.01 491.10 
L 561.6 491.35 
L 564.07 491.83 
L 570.26 493.16 
L 572.06 493.26 
L 573.63 493.14 
L 575.1 492.81 
L 576.45 492.27 
L 577.8 491.49 
L 579.26 490.36 
L 580.83 489.20 
L 583.42 487.71 
L 584.88 486.71 
L 586.01 485.68 
L 587.13 484.33 
L 588.6 482.20 
L 594.45 473.29 
L 596.36 470.99 
L 598.16 469.18 
L 599.73 467.89 
L 601.2 466.98 
L 602.55 466.42 
L 603.9 466.09 
L 605.7 465.92 
L 610.87 465.57 
L 613.23 465.09 
L 615.6 464.37 
L 618.63 463.46 
L 620.1 463.24 
L 621.33 463.28 
L 622.46 463.51 
L 623.58 463.99 
L 624.71 464.72 
L 626.06 465.88 
L 628.08 467.94 
L 629.77 469.96 
L 631.46 472.36 
L 636.18 479.33 
L 637.76 481.17 
L 639.22 482.53 
L 640.8 483.70 
L 642.82 484.90 
L 645.41 486.17 
L 648.22 487.30 
L 651.48 488.36 
L 655.87 489.54 
L 662.73 491.14 
L 667.91 492.12 
L 673.31 492.90 
L 681.07 493.77 
L 688.5 494.43 
L 693.22 494.63 
L 697.38 494.58 
L 711.78 494.18 
L 716.73 494.45 
L 723.03 495.03 
L 727.65 495.54 
L 727.65 495.54 
" clip-path="url(#p2ca9b5ae20)" style="fill: none; stroke: #1e90ff; stroke-width: 2; stroke-linecap: square"/>
</g>
<g id="line2d_33">
<path d="M 64.21 505.8 
L 67.92 508.63 
L 69.95 509.89 
L 72.09 510.93 
L 74.79 511.98 
L 77.04 512.66 
L 78.50 512.87 
L 79.74 512.83 
L 81.09 512.54 
L 85.70 511.32 
L 87.72 511.21 
L 92.90 511.05 
L 97.40 510.81 
L 105.84 510.89 
L 108.87 511.23 
L 114.27 512.09 
L 120.69 513.34 
L 123.61 513.75 
L 127.21 514.03 
L 135.42 514.34 
L 144.42 514.49 
L 154.32 514.71 
L 166.81 515.08 
L 183.57 515.22 
L 188.41 515.24 
L 191.67 515.05 
L 194.49 514.66 
L 197.75 513.95 
L 204.27 512.48 
L 206.86 512.17 
L 209.67 512.06 
L 212.82 512.18 
L 216.54 512.54 
L 222.39 513.38 
L 227.11 513.97 
L 230.26 514.13 
L 232.96 514.05 
L 235.89 513.73 
L 240.05 513.02 
L 246.69 511.88 
L 250.51 511.49 
L 254.34 511.33 
L 258.16 511.39 
L 262.21 511.69 
L 269.97 512.55 
L 275.04 512.98 
L 279.20 513.11 
L 282.91 513.00 
L 286.40 512.68 
L 290.00 512.12 
L 294.50 511.19 
L 302.04 509.35 
L 305.97 508.21 
L 308.90 507.14 
L 311.49 505.97 
L 313.96 504.59 
L 319.25 501.51 
L 321.05 500.78 
L 322.62 500.38 
L 324.31 499.95 
L 325.44 499.40 
L 327.01 498.35 
L 332.19 494.43 
L 333.54 493.06 
L 336.01 490.44 
L 336.91 489.84 
L 337.70 489.61 
L 338.49 489.63 
L 339.39 489.89 
L 340.51 490.45 
L 341.64 491.24 
L 342.87 492.41 
L 344.22 494.01 
L 345.91 496.40 
L 347.71 498.84 
L 349.17 500.40 
L 352.21 503.22 
L 353.11 503.74 
L 354.01 503.97 
L 355.14 504.01 
L 356.94 503.84 
L 357.72 503.54 
L 358.62 502.93 
L 359.75 501.85 
L 361.77 499.51 
L 363.69 497.42 
L 365.15 496.17 
L 366.84 494.70 
L 367.85 493.52 
L 369.31 491.39 
L 371.22 488.66 
L 372.46 487.34 
L 375.50 484.34 
L 376.62 482.76 
L 378.09 480.28 
L 381.91 473.54 
L 383.82 470.20 
L 385.85 466.06 
L 387.42 463.07 
L 388.55 461.41 
L 389.56 460.29 
L 390.46 459.58 
L 391.14 459.28 
L 391.70 459.22 
L 392.49 459.41 
L 394.17 459.90 
L 395.52 460.20 
L 396.20 460.58 
L 396.76 461.13 
L 397.44 462.13 
L 398.56 464.33 
L 402.84 473.38 
L 405.65 479.96 
L 407.11 482.69 
L 409.25 486.65 
L 412.06 491.93 
L 413.64 494.31 
L 415.89 497.24 
L 420.27 502.61 
L 421.74 504.01 
L 423.31 505.23 
L 425.22 506.41 
L 427.92 507.80 
L 430.85 509.06 
L 434.11 510.21 
L 437.60 511.21 
L 441.20 512.00 
L 444.91 512.59 
L 448.96 513.00 
L 453.57 513.23 
L 459.65 513.29 
L 474.05 513.37 
L 495.65 513.81 
L 521.97 513.67 
L 528.05 513.37 
L 534.35 512.84 
L 541.55 511.99 
L 560.00 509.52 
L 561.69 509.04 
L 563.04 508.44 
L 564.27 507.63 
L 565.62 506.43 
L 567.20 504.70 
L 569.00 502.37 
L 570.80 499.67 
L 572.49 496.73 
L 576.31 489.85 
L 577.32 488.09 
L 578.00 486.50 
L 578.67 484.32 
L 579.91 479.32 
L 581.15 474.70 
L 583.51 466.61 
L 584.30 462.87 
L 585.31 456.89 
L 586.77 446.73 
L 590.26 420.43 
L 593.30 396.68 
L 594.20 386.46 
L 595.32 374.13 
L 598.14 347.58 
L 599.60 337.75 
L 601.40 326.85 
L 602.19 323.46 
L 602.97 320.99 
L 604.21 317.94 
L 605.11 316.16 
L 605.79 315.22 
L 606.35 314.75 
L 606.91 314.56 
L 607.47 314.63 
L 608.04 314.97 
L 608.60 315.58 
L 609.16 316.52 
L 609.84 318.11 
L 610.62 320.64 
L 611.52 324.41 
L 612.31 328.54 
L 612.99 333.29 
L 613.77 340.89 
L 614.79 350.43 
L 616.14 359.97 
L 618.72 377.77 
L 619.96 386.87 
L 621.42 397.24 
L 625.14 420.55 
L 631.89 462.19 
L 632.90 466.87 
L 633.57 469.07 
L 634.25 470.57 
L 635.37 472.38 
L 636.16 473.83 
L 637.17 476.23 
L 640.55 484.74 
L 642.24 487.96 
L 645.16 493.50 
L 647.86 498.54 
L 649.32 500.81 
L 650.56 502.32 
L 651.91 503.62 
L 653.82 505.11 
L 656.07 506.60 
L 658.89 508.18 
L 661.92 509.65 
L 665.19 510.97 
L 668.67 512.14 
L 671.94 513.00 
L 675.09 513.60 
L 678.12 513.95 
L 681.72 514.13 
L 687.35 514.16 
L 694.21 514.26 
L 724.47 515.07 
L 727.62 515.11 
L 727.62 515.11 
" clip-path="url(#p2ca9b5ae20)" style="fill: none; stroke-dasharray: 12.8,3.2,2,3.2; stroke-dashoffset: 0; stroke: #ff0000; stroke-width: 2"/>
</g>
<g id="line2d_34">
<path d="M 64.12 449.1 
L 68.06 452.63 
L 70.08 454.15 
L 71.88 455.23 
L 74.02 456.23 
L 76.61 457.19 
L 78.18 457.56 
L 79.53 457.65 
L 80.55 457.49 
L 81.45 457.11 
L 82.23 456.53 
L 83.02 455.68 
L 83.92 454.32 
L 85.05 452.17 
L 86.73 448.38 
L 89.1 442.54 
L 90.22 439.09 
L 91.35 434.82 
L 93.26 426.40 
L 95.96 414.89 
L 101.58 391.56 
L 103.83 382.00 
L 105.07 377.79 
L 106.08 375.08 
L 106.98 373.24 
L 108 371.7 
L 108.9 370.69 
L 109.68 370.13 
L 110.25 369.97 
L 110.81 370.03 
L 111.37 370.33 
L 111.93 370.87 
L 112.61 371.86 
L 113.4 373.52 
L 114.41 376.28 
L 115.76 380.63 
L 116.77 384.59 
L 117.78 389.55 
L 119.47 399.23 
L 123.07 420.00 
L 124.65 427.75 
L 126.11 433.88 
L 127.8 439.96 
L 131.06 451.42 
L 132.97 458.08 
L 133.87 460.44 
L 134.77 462.21 
L 135.78 463.72 
L 136.91 465.01 
L 138.15 466.05 
L 139.5 466.89 
L 141.07 467.61 
L 142.98 468.22 
L 146.47 469.04 
L 149.73 469.60 
L 153.11 469.94 
L 157.38 470.14 
L 164.25 470.20 
L 173.58 470.04 
L 179.21 469.74 
L 188.77 469.12 
L 190.8 469.00 
L 191.81 468.72 
L 192.71 468.24 
L 193.5 467.58 
L 194.4 466.52 
L 195.52 464.77 
L 198.56 459.84 
L 199.68 458.55 
L 200.92 457.47 
L 202.38 456.50 
L 207.56 453.65 
L 209.25 452.89 
L 210.48 452.56 
L 211.5 452.50 
L 212.51 452.65 
L 213.63 453.04 
L 214.76 453.67 
L 216 454.60 
L 217.35 455.90 
L 219.15 457.99 
L 223.42 463.09 
L 225.22 464.79 
L 227.13 466.29 
L 229.05 467.50 
L 230.62 468.24 
L 231.97 468.64 
L 233.21 468.76 
L 234.33 468.66 
L 235.57 468.32 
L 237.03 467.68 
L 238.72 466.68 
L 240.97 465.05 
L 253.35 455.62 
L 255.71 454.01 
L 257.17 453.25 
L 258.3 452.91 
L 259.31 452.83 
L 260.32 452.99 
L 261.56 453.44 
L 263.13 454.27 
L 265.83 455.98 
L 270 458.61 
L 272.7 460.05 
L 274.61 460.86 
L 276.07 461.23 
L 277.31 461.32 
L 278.66 461.16 
L 280.12 460.76 
L 281.92 460.02 
L 283.61 459.10 
L 285.07 458.06 
L 286.42 456.85 
L 287.77 455.32 
L 289.01 453.60 
L 290.25 451.51 
L 291.6 448.76 
L 292.95 445.5 
L 294.75 440.46 
L 297.33 433.25 
L 301.72 421.93 
L 305.55 410.60 
L 307.01 407.29 
L 309.48 402.41 
L 311.62 398.45 
L 312.75 396.79 
L 313.98 395.38 
L 318.48 390.87 
L 320.73 389.12 
L 321.63 388.06 
L 322.53 386.63 
L 323.43 384.80 
L 324.45 382.18 
L 325.46 378.90 
L 326.47 374.86 
L 327.6 369.34 
L 334.8 330.72 
L 335.92 326.10 
L 336.82 323.23 
L 337.61 321.44 
L 338.17 320.61 
L 338.73 320.18 
L 339.18 320.13 
L 339.63 320.35 
L 340.08 320.82 
L 340.76 321.93 
L 341.55 323.70 
L 342.22 325.77 
L 342.9 328.55 
L 343.68 332.89 
L 344.92 341.23 
L 346.72 354.69 
L 347.85 365.13 
L 349.08 376.27 
L 349.76 380.58 
L 350.43 384.12 
L 350.77 387.30 
L 351.78 397.98 
L 352.23 400.30 
L 352.8 402.06 
L 353.36 403.85 
L 353.81 406.19 
L 355.38 415.76 
L 355.83 416.78 
L 357.41 419.11 
L 357.63 419.17 
L 357.86 419.05 
L 358.2 418.56 
L 359.77 415.76 
L 361.68 413.07 
L 362.36 411.60 
L 362.92 409.84 
L 363.48 407.25 
L 364.38 402.93 
L 365.06 400.93 
L 365.85 399.43 
L 367.08 397.24 
L 368.21 394.74 
L 369.67 390.88 
L 373.61 380.18 
L 375.63 374.76 
L 377.32 370.03 
L 379.35 365.19 
L 380.36 361.62 
L 381.6 356.36 
L 383.28 348.09 
L 385.87 335.46 
L 387.45 328.99 
L 388.91 323.91 
L 390.6 318.91 
L 391.61 316.42 
L 392.28 315.30 
L 392.85 314.82 
L 393.3 314.70 
L 393.86 314.81 
L 394.42 315.16 
L 395.1 315.88 
L 395.88 317.09 
L 396.78 318.94 
L 397.68 321.28 
L 398.7 324.57 
L 399.71 328.65 
L 405.78 355.92 
L 413.21 392.49 
L 416.25 405.9 
L 422.21 432.60 
L 424.23 440.03 
L 425.58 444.20 
L 426.82 447.25 
L 428.17 449.96 
L 429.41 452.02 
L 430.42 453.33 
L 431.32 454.14 
L 432.22 454.66 
L 433.68 455.19 
L 435.15 455.80 
L 437.17 456.96 
L 441.9 459.64 
L 445.5 461.43 
L 450.22 463.51 
L 455.62 465.67 
L 457.76 466.27 
L 459.9 466.65 
L 462.26 466.82 
L 465.41 466.80 
L 471.26 466.73 
L 474.07 466.97 
L 483.52 468.17 
L 485.88 468.80 
L 489.82 470.13 
L 493.2 471.18 
L 495.9 471.77 
L 498.6 472.13 
L 501.3 472.27 
L 504.33 472.20 
L 508.5 471.84 
L 515.92 471.19 
L 519.97 471.09 
L 523.68 471.23 
L 528.18 471.64 
L 540.67 472.91 
L 547.76 473.33 
L 552.37 473.38 
L 556.2 473.21 
L 560.47 472.77 
L 566.66 471.89 
L 569.7 471.27 
L 572.06 470.56 
L 574.08 469.73 
L 576 468.71 
L 579.71 466.60 
L 581.4 465.70 
L 582.41 464.91 
L 583.42 463.81 
L 585 461.72 
L 587.02 459.08 
L 590.62 454.74 
L 591.97 452.56 
L 594.78 447.90 
L 596.25 446.00 
L 597.71 444.47 
L 598.95 443.47 
L 600.07 442.83 
L 601.08 442.52 
L 601.98 442.45 
L 602.88 442.61 
L 603.78 442.98 
L 604.68 443.60 
L 605.7 444.55 
L 606.93 446.02 
L 608.51 448.25 
L 612.11 453.52 
L 618.52 461.58 
L 620.21 463.30 
L 622.35 465.13 
L 624.37 466.59 
L 626.06 467.55 
L 627.63 468.19 
L 629.43 468.66 
L 632.13 469.10 
L 647.88 471.46 
L 657.22 473.48 
L 659.92 473.74 
L 663.41 473.84 
L 677.7 474.04 
L 689.17 474.28 
L 694.35 474.15 
L 699.97 473.76 
L 707.96 473.22 
L 712.35 473.18 
L 717.41 473.36 
L 723.93 473.83 
L 727.65 474.16 
L 727.65 474.16 
" clip-path="url(#p2ca9b5ae20)" style="fill: none; stroke-dasharray: 12.8,3.2,2,3.2; stroke-dashoffset: 0; stroke: #1e90ff; stroke-width: 2"/>
</g>
<g id="line2d_35">
<path d="M 64.21 502.74 
L 72.09 503.56 
L 77.04 504.33 
L 82.77 505.46 
L 87.61 506.34 
L 90.54 506.64 
L 93.57 506.71 
L 97.85 506.57 
L 103.02 506.42 
L 105.50 506.58 
L 107.97 506.99 
L 111.91 507.91 
L 115.74 508.72 
L 118.66 509.10 
L 122.15 509.31 
L 126.76 509.34 
L 132.84 509.41 
L 145.89 509.85 
L 157.70 509.80 
L 167.60 509.58 
L 196.62 508.46 
L 205.51 507.98 
L 211.14 507.96 
L 221.04 507.95 
L 227.22 507.66 
L 235.32 507.04 
L 243.42 506.21 
L 255.24 504.94 
L 258.27 504.91 
L 261.09 505.11 
L 265.36 505.68 
L 269.97 506.23 
L 272.67 506.33 
L 275.04 506.20 
L 277.17 505.86 
L 279.20 505.32 
L 281.22 504.56 
L 283.36 503.51 
L 285.72 502.11 
L 288.65 500.09 
L 294.05 496.32 
L 297.54 494.24 
L 303.61 490.92 
L 306.09 489.82 
L 308.00 489.19 
L 309.46 488.94 
L 310.70 488.95 
L 311.82 489.17 
L 312.95 489.64 
L 314.07 490.37 
L 315.99 491.95 
L 317.79 493.32 
L 318.80 493.85 
L 319.70 494.07 
L 320.49 494.03 
L 321.84 493.80 
L 322.29 494.05 
L 322.96 494.72 
L 324.42 496.27 
L 325.21 496.74 
L 326.00 496.96 
L 326.90 496.95 
L 327.91 496.69 
L 329.04 496.17 
L 330.27 495.36 
L 331.85 494.04 
L 334.21 492.07 
L 336.01 490.69 
L 336.80 489.78 
L 338.04 487.92 
L 339.39 486.01 
L 341.64 483.35 
L 342.87 481.67 
L 345.01 478.54 
L 346.14 477.34 
L 347.26 476.44 
L 348.16 475.97 
L 348.95 475.77 
L 349.74 475.80 
L 350.52 476.06 
L 351.76 476.73 
L 354.01 478.17 
L 354.80 478.99 
L 357.27 481.97 
L 358.17 482.55 
L 359.19 482.95 
L 360.42 483.19 
L 361.44 483.19 
L 362.34 482.99 
L 363.24 482.56 
L 364.47 481.68 
L 367.17 479.68 
L 368.75 478.49 
L 369.99 477.23 
L 373.36 473.59 
L 374.49 472.78 
L 375.61 472.25 
L 376.62 472.01 
L 377.64 472.01 
L 378.87 472.26 
L 380.45 472.82 
L 382.25 473.71 
L 387.54 476.55 
L 389.45 477.15 
L 391.59 477.58 
L 393.16 477.67 
L 394.51 477.53 
L 395.64 477.20 
L 396.54 476.72 
L 397.44 476.01 
L 400.47 473.31 
L 401.37 472.97 
L 402.39 472.84 
L 403.74 472.92 
L 405.76 473.27 
L 406.89 473.68 
L 407.90 474.29 
L 408.80 475.08 
L 409.81 476.29 
L 411.27 478.42 
L 414.42 483.09 
L 417.57 487.54 
L 419.04 490.08 
L 421.29 494.08 
L 422.41 495.56 
L 423.54 496.70 
L 424.89 497.75 
L 429.72 500.92 
L 431.52 501.94 
L 433.10 502.55 
L 439.74 504.56 
L 442.32 505.16 
L 445.59 505.67 
L 458.07 507.20 
L 461.34 507.33 
L 464.49 507.22 
L 468.31 506.85 
L 475.29 505.90 
L 479.79 505.41 
L 482.82 505.30 
L 485.64 505.43 
L 489.24 505.84 
L 498.91 507.06 
L 505.32 507.50 
L 514.77 507.94 
L 517.59 507.80 
L 519.95 507.46 
L 522.54 506.85 
L 525.46 505.93 
L 529.06 504.54 
L 537.16 501.30 
L 538.96 500.91 
L 540.65 500.76 
L 542.56 500.81 
L 544.81 501.11 
L 550.10 501.96 
L 551.45 501.86 
L 552.69 501.55 
L 553.92 501.02 
L 555.16 500.27 
L 556.51 499.17 
L 557.97 497.70 
L 559.77 495.54 
L 562.02 492.46 
L 564.84 488.22 
L 567.20 484.31 
L 568.66 481.46 
L 570.24 477.83 
L 571.47 475.15 
L 572.26 473.91 
L 572.82 473.38 
L 573.61 472.67 
L 574.06 471.84 
L 574.51 470.39 
L 574.96 468.09 
L 575.52 463.70 
L 577.21 449.16 
L 579.91 426.74 
L 583.62 390.16 
L 588.69 339.87 
L 589.81 332.17 
L 591.61 321.34 
L 592.29 318.57 
L 592.85 317.08 
L 593.41 316.14 
L 594.09 315.45 
L 594.87 314.94 
L 595.66 314.69 
L 596.22 314.72 
L 596.67 314.99 
L 597.12 315.63 
L 597.69 317.02 
L 600.16 324.46 
L 600.95 328.39 
L 604.77 349.41 
L 608.04 364.95 
L 611.19 377.02 
L 612.87 382.98 
L 614.67 389.21 
L 615.69 393.69 
L 620.75 418.91 
L 630.65 467.57 
L 631.77 471.21 
L 632.90 474.07 
L 633.91 476.08 
L 634.81 477.42 
L 635.94 478.65 
L 637.62 480.44 
L 638.64 481.92 
L 641.45 486.24 
L 642.35 487.13 
L 643.36 487.81 
L 644.49 488.28 
L 646.40 488.78 
L 647.86 489.25 
L 649.21 489.95 
L 653.82 492.54 
L 657.54 493.99 
L 658.89 494.93 
L 660.57 496.41 
L 664.29 500.09 
L 666.54 502.09 
L 668.56 503.60 
L 670.47 504.76 
L 672.27 505.60 
L 673.96 506.15 
L 675.87 506.54 
L 678.12 506.75 
L 681.61 506.82 
L 685.32 506.95 
L 688.02 507.30 
L 691.62 508.00 
L 700.96 509.95 
L 704.22 510.35 
L 707.04 510.48 
L 710.41 510.41 
L 723.01 509.90 
L 727.62 509.98 
L 727.62 509.98 
" clip-path="url(#p2ca9b5ae20)" style="fill: none; stroke-dasharray: 6,2,2,2,2,2; stroke-dashoffset: 0; stroke: #ff0000; stroke-width: 2"/>
</g>
<g id="line2d_36">
<path d="M 64.12 462.15 
L 67.95 458.66 
L 69.97 457.12 
L 71.55 456.18 
L 72.78 455.68 
L 73.91 455.45 
L 74.92 455.46 
L 75.93 455.72 
L 76.95 456.22 
L 78.18 457.08 
L 79.98 458.64 
L 83.36 461.61 
L 84.82 462.59 
L 85.95 463.11 
L 87.07 463.38 
L 88.08 463.40 
L 89.1 463.22 
L 90.22 462.78 
L 91.35 462.10 
L 92.58 461.09 
L 94.05 459.58 
L 96.18 457.01 
L 100.46 451.81 
L 102.48 449.72 
L 103.95 448.51 
L 105.07 447.85 
L 105.97 447.55 
L 106.87 447.48 
L 107.77 447.63 
L 108.78 448.04 
L 109.91 448.75 
L 111.26 449.89 
L 112.72 451.41 
L 114.3 453.40 
L 115.98 455.90 
L 121.05 463.72 
L 122.73 465.79 
L 124.42 467.51 
L 126.45 469.24 
L 130.16 472.04 
L 132.86 473.93 
L 134.55 474.83 
L 137.47 476.31 
L 140.17 478.09 
L 142.2 479.29 
L 144 480.10 
L 145.91 480.73 
L 148.05 481.19 
L 150.63 481.52 
L 154.23 481.73 
L 158.17 481.74 
L 162.56 481.52 
L 167.85 481.02 
L 174.93 480.12 
L 180 479.28 
L 184.05 478.38 
L 192.93 476.30 
L 195.75 475.93 
L 197.77 475.86 
L 199.68 476.03 
L 201.93 476.47 
L 205.53 477.43 
L 210.26 478.64 
L 212.96 479.10 
L 215.43 479.30 
L 217.8 479.28 
L 220.16 479.04 
L 222.63 478.57 
L 225.33 477.82 
L 227.92 476.87 
L 230.17 475.82 
L 232.2 474.63 
L 234.78 472.83 
L 238.83 469.98 
L 240.86 468.86 
L 242.77 468.05 
L 244.46 467.57 
L 246.15 467.33 
L 247.72 467.32 
L 249.3 467.52 
L 250.98 467.98 
L 255.82 469.48 
L 257.28 469.57 
L 258.97 469.44 
L 261.22 469.01 
L 267.86 467.38 
L 272.13 466.14 
L 274.83 465.12 
L 277.08 464.04 
L 279.22 462.77 
L 281.36 461.24 
L 283.27 459.61 
L 284.85 457.98 
L 286.31 456.18 
L 287.77 454.02 
L 289.23 451.46 
L 293.51 443.58 
L 294.75 441.35 
L 295.76 439.03 
L 296.66 436.37 
L 297.78 432.26 
L 299.47 425.09 
L 300.6 419.42 
L 301.61 412.94 
L 303.3 401.93 
L 304.2 397.58 
L 305.21 393.82 
L 306.33 390.53 
L 307.35 388.17 
L 308.25 386.55 
L 309.03 385.51 
L 309.71 384.93 
L 310.27 384.67 
L 310.83 384.65 
L 311.4 384.87 
L 311.96 385.33 
L 312.63 386.20 
L 313.42 387.63 
L 314.32 389.80 
L 315.67 393.81 
L 319.72 406.81 
L 320.85 412.12 
L 322.53 420.05 
L 323.88 425.03 
L 327.03 435.83 
L 327.93 437.93 
L 328.72 439.26 
L 329.4 440.01 
L 329.96 440.36 
L 330.52 440.48 
L 331.08 440.37 
L 331.76 439.98 
L 332.55 439.24 
L 333.56 437.95 
L 334.68 436.14 
L 336.03 433.51 
L 337.72 429.66 
L 340.98 421.58 
L 344.02 413.55 
L 344.92 411.95 
L 345.93 410.61 
L 347.17 409.35 
L 348.07 408.73 
L 348.75 408.49 
L 349.42 408.49 
L 350.21 408.75 
L 351.45 409.46 
L 354.6 411.31 
L 355.61 411.67 
L 356.51 411.75 
L 357.18 411.60 
L 357.86 411.22 
L 358.53 410.54 
L 359.21 409.51 
L 360 407.89 
L 361.01 405.28 
L 363.48 398.02 
L 364.16 395.02 
L 364.95 390.29 
L 366.75 377.44 
L 367.98 369.54 
L 370.91 352.06 
L 374.4 329.75 
L 375.52 324.30 
L 376.53 320.47 
L 377.43 317.87 
L 378.22 316.24 
L 378.9 315.37 
L 379.46 315.00 
L 380.02 314.89 
L 380.58 315.00 
L 381.15 315.34 
L 381.71 315.96 
L 382.38 317.10 
L 383.51 319.60 
L 384.52 322.39 
L 385.42 325.56 
L 386.32 329.57 
L 387.78 337.33 
L 392.28 361.72 
L 394.08 370.47 
L 395.32 375.47 
L 396.45 379.19 
L 397.46 381.86 
L 398.36 383.66 
L 399.15 384.79 
L 399.93 385.57 
L 400.72 386.06 
L 401.62 386.38 
L 403.08 386.62 
L 406.12 387.08 
L 407.36 387.50 
L 408.37 388.07 
L 409.27 388.82 
L 410.17 389.84 
L 411.07 391.19 
L 412.08 393.14 
L 413.21 395.84 
L 414.45 399.46 
L 415.8 404.18 
L 417.48 410.96 
L 419.96 421.92 
L 422.1 431.1 
L 423.45 435.86 
L 425.92 443.61 
L 427.27 447.21 
L 430.76 455.35 
L 431.77 457.18 
L 433.68 460.48 
L 435.6 464.20 
L 436.61 465.55 
L 437.73 466.68 
L 439.2 467.84 
L 443.36 470.69 
L 444.71 471.33 
L 446.51 471.90 
L 450.11 473.01 
L 451.91 473.85 
L 455.96 475.83 
L 457.87 476.46 
L 459.78 476.85 
L 461.7 477.01 
L 463.72 476.95 
L 466.31 476.62 
L 473.06 475.61 
L 474.86 475.66 
L 476.55 475.92 
L 478.68 476.51 
L 481.27 477.45 
L 484.76 478.99 
L 490.05 481.33 
L 492.3 482.06 
L 494.66 482.59 
L 497.25 482.94 
L 500.17 483.11 
L 504.33 483.10 
L 512.55 483.05 
L 521.88 482.99 
L 525.15 482.73 
L 528.63 482.21 
L 532.57 481.67 
L 535.38 481.53 
L 539.1 481.59 
L 551.36 481.94 
L 556.31 481.83 
L 560.58 481.49 
L 567.22 480.83 
L 568.57 480.33 
L 569.81 479.63 
L 571.27 478.53 
L 575.66 474.99 
L 576.78 474.13 
L 577.57 473.22 
L 578.58 471.62 
L 581.62 466.51 
L 583.87 463.11 
L 585.56 459.94 
L 587.25 456.90 
L 588.6 454.96 
L 589.95 453.41 
L 591.52 451.94 
L 592.76 451.07 
L 593.77 450.63 
L 594.67 450.45 
L 595.57 450.51 
L 596.36 450.79 
L 597.03 451.25 
L 597.82 452.06 
L 600.75 455.42 
L 605.36 459.63 
L 608.28 462.50 
L 610.08 463.90 
L 616.05 468.06 
L 617.4 468.66 
L 620.21 469.75 
L 621.11 470.39 
L 622.01 471.30 
L 624.93 474.60 
L 626.28 475.59 
L 629.32 477.44 
L 635.62 481.07 
L 637.31 481.72 
L 638.77 482.05 
L 640.57 482.20 
L 645.3 482.48 
L 653.06 483.22 
L 661.5 483.87 
L 675.56 485.14 
L 680.4 485.27 
L 686.25 485.19 
L 695.81 484.80 
L 707.06 484.41 
L 714.15 484.39 
L 721.68 484.61 
L 727.65 484.87 
L 727.65 484.87 
" clip-path="url(#p2ca9b5ae20)" style="fill: none; stroke-dasharray: 6,2,2,2,2,2; stroke-dashoffset: 0; stroke: #1e90ff; stroke-width: 2"/>
</g>
<g id="line2d_37">
<path d="M 64.12 471.6 
L 73.12 473.44 
L 78.52 474.79 
L 90 477.82 
L 94.38 478.64 
L 98.55 479.19 
L 102.37 479.48 
L 106.65 479.57 
L 112.5 479.45 
L 133.87 478.59 
L 141.18 477.86 
L 149.73 477.06 
L 154.8 476.81 
L 166.95 476.36 
L 169.31 475.95 
L 171.78 475.28 
L 175.05 474.15 
L 180.56 471.96 
L 186.41 469.68 
L 188.77 469.01 
L 191.02 468.61 
L 193.83 468.36 
L 196.65 468.30 
L 198.56 468.47 
L 200.7 468.91 
L 203.73 469.78 
L 208.57 471.17 
L 211.38 471.75 
L 213.97 472.06 
L 216.78 472.16 
L 219.82 472.06 
L 221.96 471.78 
L 223.65 471.35 
L 225.22 470.72 
L 226.8 469.85 
L 228.82 468.45 
L 232.76 465.37 
L 236.25 462.80 
L 238.83 461.17 
L 240.97 460.09 
L 242.77 459.43 
L 244.35 459.08 
L 246.03 458.95 
L 249.3 459.00 
L 251.32 458.90 
L 252.56 458.65 
L 253.57 458.22 
L 254.47 457.60 
L 255.37 456.71 
L 256.5 455.25 
L 258.18 452.62 
L 259.76 449.88 
L 260.66 447.85 
L 261.56 445.25 
L 266.85 427.98 
L 270.22 415.02 
L 271.68 410.78 
L 273.71 405.67 
L 277.42 397.01 
L 279.22 393.25 
L 280.68 390.70 
L 282.26 388.42 
L 284.17 386.08 
L 285.97 384.20 
L 287.55 382.85 
L 289.01 381.89 
L 290.36 381.26 
L 291.6 380.93 
L 292.95 380.83 
L 294.97 380.93 
L 297.45 381.01 
L 299.25 380.84 
L 300.82 380.47 
L 302.51 379.84 
L 304.31 378.92 
L 309.48 376.06 
L 310.38 375.88 
L 311.17 375.93 
L 311.96 376.20 
L 312.86 376.75 
L 313.76 377.57 
L 314.77 378.80 
L 315.9 380.56 
L 317.02 382.76 
L 317.81 384.73 
L 318.71 387.67 
L 322.08 400.22 
L 323.66 408.26 
L 325.12 415.36 
L 326.36 420.19 
L 327.82 424.90 
L 329.73 430.28 
L 330.75 432.51 
L 331.42 433.50 
L 331.87 433.86 
L 332.32 433.94 
L 332.77 433.76 
L 333.33 433.22 
L 334.01 432.20 
L 334.91 430.38 
L 336.48 426.61 
L 337.95 422.55 
L 339.18 418.45 
L 340.76 412.30 
L 343.91 399.87 
L 345.15 395.89 
L 346.16 393.29 
L 347.06 391.56 
L 347.85 390.50 
L 348.52 389.93 
L 349.08 389.69 
L 349.65 389.67 
L 350.21 389.86 
L 350.88 390.35 
L 351.67 391.23 
L 352.57 392.63 
L 353.58 394.63 
L 354.71 397.37 
L 355.95 400.96 
L 357.52 406.30 
L 359.77 414.84 
L 363.26 428.94 
L 365.96 439.70 
L 367.53 445.05 
L 369.11 449.62 
L 370.68 453.51 
L 372.15 456.56 
L 373.61 459.10 
L 374.96 460.99 
L 376.31 462.49 
L 377.77 463.77 
L 379.46 464.94 
L 387 469.53 
L 389.47 470.82 
L 392.06 471.89 
L 396 473.24 
L 400.83 474.71 
L 404.21 475.50 
L 407.13 475.96 
L 410.4 476.23 
L 414.67 476.36 
L 426.26 476.37 
L 437.96 476.31 
L 443.92 476.00 
L 449.88 475.47 
L 453.82 474.92 
L 456.97 474.25 
L 460.91 473.15 
L 467.66 471.25 
L 475.31 469.46 
L 481.83 467.81 
L 487.57 466.13 
L 491.96 464.68 
L 493.31 463.95 
L 494.43 463.09 
L 495.56 461.93 
L 497.13 459.91 
L 499.95 456.25 
L 506.47 448.35 
L 508.5 445.27 
L 510.86 441.27 
L 513.33 436.64 
L 514.68 433.64 
L 515.81 430.56 
L 516.93 426.80 
L 518.62 420.22 
L 520.87 410.59 
L 522.11 404.27 
L 522.9 399.24 
L 523.68 392.69 
L 525.6 375.19 
L 526.5 369.76 
L 528.18 359.98 
L 529.53 350.08 
L 532.35 328.92 
L 533.25 323.79 
L 534.03 320.44 
L 534.82 317.97 
L 535.61 316.21 
L 536.28 315.24 
L 536.85 314.79 
L 537.41 314.63 
L 537.97 314.75 
L 538.53 315.16 
L 539.1 315.91 
L 539.66 317.06 
L 540.33 319.00 
L 541.12 321.99 
L 542.02 326.28 
L 543.15 332.77 
L 544.95 344.77 
L 548.43 369.49 
L 550.46 385.93 
L 551.7 395.46 
L 552.48 399.92 
L 553.27 403.06 
L 554.28 406.09 
L 555.75 410.45 
L 557.55 415.79 
L 558.56 418.07 
L 559.57 419.83 
L 560.7 421.34 
L 562.16 422.89 
L 566.21 426.94 
L 567.56 428.76 
L 569.36 431.61 
L 571.95 436.17 
L 573.41 439.13 
L 574.53 441.87 
L 575.66 445.20 
L 577.57 450.97 
L 578.47 452.90 
L 579.6 454.69 
L 581.17 457.15 
L 585.11 463.87 
L 586.46 465.49 
L 587.92 466.90 
L 589.83 468.42 
L 591.97 469.83 
L 594.22 471.05 
L 596.81 472.19 
L 599.73 473.23 
L 603.78 474.40 
L 609.97 475.97 
L 613.46 476.63 
L 616.61 477.00 
L 626.4 477.95 
L 638.1 479.78 
L 642.71 480.11 
L 648.11 480.26 
L 675.33 480.68 
L 695.7 481.16 
L 727.65 481.77 
L 727.65 481.77 
" clip-path="url(#p2ca9b5ae20)" style="fill: none; stroke: #800000; stroke-width: 2; stroke-linecap: square"/>
</g>
<g id="line2d_38">
<path d="M 64.12 427.05 
L 73.01 437.96 
L 74.81 439.80 
L 76.16 440.89 
L 77.4 441.60 
L 78.3 441.89 
L 79.08 441.92 
L 79.76 441.73 
L 80.43 441.32 
L 81.11 440.64 
L 81.9 439.51 
L 82.8 437.79 
L 83.92 435.13 
L 85.38 431.04 
L 87.07 425.65 
L 88.65 419.86 
L 90.33 412.75 
L 95.4 390.77 
L 97.08 384.13 
L 98.43 379.72 
L 99.67 376.35 
L 100.68 374.13 
L 101.58 372.64 
L 102.37 371.73 
L 103.05 371.24 
L 103.72 371.00 
L 104.4 371.01 
L 105.07 371.24 
L 105.86 371.76 
L 106.76 372.66 
L 107.77 374.01 
L 108.67 375.57 
L 109.57 377.56 
L 110.58 380.40 
L 111.93 384.99 
L 114.75 395.39 
L 117.22 405.60 
L 122.62 428.18 
L 124.2 433.48 
L 126 438.72 
L 127.8 443.30 
L 129.37 446.70 
L 130.72 449.11 
L 132.07 451.06 
L 133.31 452.48 
L 134.55 453.58 
L 135.78 454.40 
L 137.13 455.03 
L 138.71 455.50 
L 140.85 455.87 
L 148.16 456.99 
L 150.86 457.63 
L 152.77 458.30 
L 154.57 459.16 
L 156.82 460.50 
L 160.2 462.81 
L 167.96 468.17 
L 171.67 470.42 
L 174.03 471.64 
L 175.61 472.21 
L 176.85 472.43 
L 177.97 472.41 
L 179.21 472.16 
L 180.56 471.65 
L 182.25 470.75 
L 184.61 469.20 
L 189.9 465.40 
L 192.6 463.17 
L 194.85 461.03 
L 198.56 457.42 
L 200.47 455.93 
L 202.95 454.31 
L 207.33 451.73 
L 208.8 451.11 
L 210.03 450.82 
L 211.16 450.80 
L 212.28 451.03 
L 213.41 451.50 
L 214.53 452.22 
L 215.77 453.28 
L 217.23 454.84 
L 219.26 457.36 
L 227.13 467.46 
L 228.37 468.57 
L 229.61 469.37 
L 230.73 469.85 
L 231.86 470.09 
L 232.98 470.13 
L 234.11 469.96 
L 235.23 469.56 
L 236.25 468.96 
L 237.26 468.11 
L 238.38 466.84 
L 239.96 464.68 
L 245.47 456.42 
L 250.42 448.49 
L 252 446.15 
L 253.01 444.23 
L 253.91 442.02 
L 256.16 436.16 
L 257.06 434.60 
L 258.07 433.31 
L 259.42 431.99 
L 260.88 430.81 
L 262.12 430.08 
L 263.25 429.67 
L 264.6 429.42 
L 266.06 429.39 
L 267.07 429.60 
L 267.86 429.97 
L 268.65 430.57 
L 269.55 431.56 
L 270.9 433.44 
L 274.16 438.14 
L 276.52 441.01 
L 280.8 445.82 
L 282.37 447.28 
L 283.61 448.15 
L 284.85 448.76 
L 286.2 449.17 
L 287.77 449.41 
L 289.23 449.44 
L 290.36 449.25 
L 291.37 448.88 
L 292.38 448.27 
L 293.4 447.38 
L 294.52 446.08 
L 295.87 444.16 
L 297.67 441.18 
L 300.15 436.62 
L 304.76 428.00 
L 306.22 425.77 
L 307.57 424.12 
L 308.92 422.83 
L 310.38 421.73 
L 312.18 420.67 
L 313.98 419.84 
L 315.45 419.40 
L 316.8 419.22 
L 318.15 419.29 
L 321.52 419.60 
L 322.53 419.41 
L 323.77 418.95 
L 325.35 418.09 
L 329.28 415.58 
L 330.63 414.48 
L 331.76 413.24 
L 332.77 411.79 
L 334.23 409.25 
L 336.93 404.49 
L 338.17 402.82 
L 339.3 401.66 
L 340.42 400.82 
L 341.55 400.27 
L 342.56 400.01 
L 343.68 399.95 
L 344.81 400.13 
L 346.05 400.55 
L 347.28 401.22 
L 348.63 402.20 
L 350.1 403.54 
L 354.37 407.70 
L 355.5 408.40 
L 356.4 408.73 
L 357.18 408.79 
L 357.97 408.61 
L 358.76 408.17 
L 359.66 407.36 
L 360.67 406.13 
L 361.8 404.39 
L 363.6 401.12 
L 366.75 395.42 
L 368.55 391.98 
L 370.12 388.45 
L 372.15 383.24 
L 373.27 380.72 
L 374.06 379.48 
L 374.85 378.67 
L 375.63 378.18 
L 376.65 377.82 
L 378.45 377.45 
L 379.68 377.42 
L 380.7 377.62 
L 381.6 378.02 
L 382.5 378.67 
L 383.4 379.60 
L 384.41 380.98 
L 385.53 382.91 
L 390.15 391.34 
L 392.85 395.39 
L 394.98 398.26 
L 396.56 400.01 
L 397.91 401.18 
L 399.26 402.04 
L 400.72 402.69 
L 402.52 403.24 
L 404.77 403.91 
L 405.78 404.47 
L 406.68 405.24 
L 407.7 406.46 
L 409.16 408.65 
L 411.63 412.79 
L 412.87 415.32 
L 414 418.16 
L 415.23 421.95 
L 420.86 440.05 
L 425.47 453.52 
L 426.93 457.11 
L 428.4 460.10 
L 429.97 462.80 
L 431.55 465.07 
L 433.01 466.83 
L 434.47 468.25 
L 436.05 469.48 
L 438.07 470.77 
L 441 472.36 
L 443.47 473.45 
L 445.72 474.19 
L 447.86 474.66 
L 449.88 474.89 
L 451.91 474.90 
L 453.93 474.69 
L 456.07 474.24 
L 458.32 473.52 
L 460.8 472.48 
L 464.4 470.69 
L 467.55 469.22 
L 470.02 468.31 
L 472.16 467.75 
L 473.73 467.53 
L 474.97 467.57 
L 476.21 467.85 
L 478.23 468.57 
L 481.5 469.94 
L 483.75 471.13 
L 491.96 475.77 
L 494.66 476.89 
L 497.36 477.77 
L 500.51 478.55 
L 504 479.19 
L 507.03 479.53 
L 510.63 479.69 
L 517.16 479.69 
L 523.68 479.61 
L 526.16 479.31 
L 528.86 478.74 
L 534.15 477.58 
L 537.07 477.21 
L 540.33 477.02 
L 545.28 477.00 
L 549.45 476.89 
L 552.71 476.58 
L 555.18 476.15 
L 557.21 475.58 
L 559.12 474.79 
L 561.15 473.72 
L 563.4 472.28 
L 564.97 471.02 
L 566.32 469.66 
L 567.78 467.86 
L 569.47 465.41 
L 571.83 461.93 
L 572.51 461.32 
L 573.3 460.93 
L 574.87 460.27 
L 575.43 459.76 
L 576 458.96 
L 576.56 457.78 
L 577.23 455.80 
L 578.13 452.37 
L 579.37 446.69 
L 584.43 421.44 
L 585.67 414.07 
L 586.68 406.76 
L 591.52 368.69 
L 594.11 349.51 
L 595.57 340.59 
L 597.48 330.38 
L 598.5 326.03 
L 599.4 323.02 
L 600.41 320.43 
L 601.42 318.47 
L 602.43 316.98 
L 603.45 315.89 
L 604.46 315.12 
L 605.25 314.79 
L 605.92 314.73 
L 606.6 314.88 
L 607.38 315.33 
L 608.4 316.21 
L 610.2 318.17 
L 611.66 320.01 
L 612.67 321.64 
L 613.68 323.73 
L 615.26 327.59 
L 617.4 332.73 
L 619.53 337.81 
L 620.77 341.45 
L 622.23 346.49 
L 624.37 354.73 
L 627.75 368.69 
L 628.65 373.34 
L 629.55 379.31 
L 631.12 390.40 
L 632.13 395.57 
L 636.41 414.40 
L 637.98 420.61 
L 639.67 426.34 
L 641.47 431.64 
L 643.27 436.27 
L 645.07 440.30 
L 646.87 443.81 
L 648.9 447.27 
L 651.37 451.04 
L 658.35 461.37 
L 663.97 470.29 
L 665.66 472.48 
L 667.01 473.91 
L 668.36 475.04 
L 669.82 475.98 
L 671.51 476.79 
L 673.65 477.56 
L 676.01 478.16 
L 678.82 478.63 
L 682.76 479.03 
L 689.06 479.41 
L 696.15 479.91 
L 713.7 481.46 
L 720.22 481.59 
L 727.65 481.59 
L 727.65 481.59 
" clip-path="url(#p2ca9b5ae20)" style="fill: none; stroke-dasharray: 7.4,3.2; stroke-dashoffset: 0; stroke: #5f9ea0; stroke-width: 2"/>
</g>
<g id="line2d_39">
<path d="M 64.21 530.77 
L 67.47 532.44 
L 69.16 533.06 
L 70.62 533.37 
L 71.97 533.44 
L 73.32 533.28 
L 74.45 532.94 
L 75.57 532.36 
L 76.59 531.59 
L 77.71 530.45 
L 78.95 528.87 
L 80.30 526.75 
L 81.76 524.04 
L 83.22 520.89 
L 84.91 516.70 
L 86.71 511.65 
L 88.29 506.56 
L 91.55 495.39 
L 92.56 492.96 
L 93.57 491.13 
L 94.59 489.75 
L 95.82 488.47 
L 97.62 486.99 
L 100.32 484.73 
L 105.16 480.50 
L 106.29 479.90 
L 107.30 479.60 
L 108.20 479.57 
L 108.99 479.76 
L 109.77 480.16 
L 110.56 480.79 
L 111.46 481.81 
L 112.47 483.36 
L 113.60 485.53 
L 114.95 488.65 
L 116.41 492.58 
L 117.99 497.47 
L 123.50 515.31 
L 124.96 519.22 
L 126.20 521.90 
L 127.44 524.07 
L 128.79 525.97 
L 130.25 527.64 
L 131.94 529.21 
L 133.62 530.48 
L 135.31 531.47 
L 137.00 532.20 
L 138.91 532.78 
L 141.05 533.18 
L 143.75 533.44 
L 152.64 534.11 
L 172.89 536.20 
L 179.52 536.57 
L 185.49 536.68 
L 190.89 536.56 
L 196.06 536.23 
L 203.60 535.48 
L 212.37 534.67 
L 218.67 534.31 
L 230.71 533.76 
L 233.86 533.33 
L 235.77 532.85 
L 237.35 532.25 
L 238.81 531.45 
L 240.39 530.32 
L 242.07 528.82 
L 243.99 526.79 
L 249.39 520.79 
L 250.96 519.55 
L 252.65 518.51 
L 254.45 517.66 
L 255.80 517.25 
L 256.92 517.13 
L 257.94 517.24 
L 259.06 517.57 
L 260.41 518.23 
L 261.99 519.25 
L 263.90 520.79 
L 266.04 522.80 
L 271.55 528.16 
L 273.69 529.79 
L 275.82 531.14 
L 277.96 532.22 
L 280.10 533.05 
L 282.24 533.64 
L 284.37 534.00 
L 286.85 534.17 
L 289.89 534.14 
L 295.51 533.81 
L 303.84 533.37 
L 308.67 533.35 
L 316.44 533.60 
L 322.62 533.69 
L 326.56 533.53 
L 329.71 533.19 
L 332.52 532.66 
L 335.90 531.79 
L 340.96 530.23 
L 347.82 528.15 
L 352.55 526.65 
L 355.25 525.57 
L 356.60 524.83 
L 357.72 523.95 
L 358.74 522.90 
L 359.75 521.51 
L 360.76 519.75 
L 361.77 517.55 
L 362.90 514.56 
L 364.36 510.01 
L 366.16 503.65 
L 367.40 498.44 
L 368.52 492.68 
L 370.32 483.27 
L 371.00 480.89 
L 372.69 476.04 
L 373.59 471.73 
L 374.82 465.83 
L 375.50 463.62 
L 376.40 461.54 
L 378.20 458.00 
L 378.76 457.42 
L 379.10 457.33 
L 379.55 457.48 
L 380.11 458.02 
L 381.12 459.42 
L 382.92 462.20 
L 384.05 464.34 
L 385.17 466.95 
L 386.75 471.22 
L 389.67 479.31 
L 390.91 481.96 
L 392.26 484.29 
L 393.95 486.73 
L 395.41 488.49 
L 396.76 489.77 
L 398.11 490.73 
L 399.69 491.57 
L 403.62 493.49 
L 404.64 494.37 
L 405.65 495.55 
L 406.89 497.38 
L 408.46 500.13 
L 410.94 504.97 
L 416.00 514.98 
L 418.14 518.64 
L 419.94 521.28 
L 421.85 523.68 
L 424.21 526.26 
L 426.91 528.90 
L 428.49 530.15 
L 429.72 530.86 
L 430.85 531.25 
L 431.86 531.36 
L 432.87 531.25 
L 434.00 530.90 
L 435.35 530.24 
L 436.92 529.22 
L 438.95 527.62 
L 440.75 525.91 
L 442.32 524.11 
L 443.90 521.97 
L 445.14 519.89 
L 446.26 517.56 
L 447.39 514.65 
L 448.51 511.03 
L 449.64 506.56 
L 450.76 501.10 
L 453.12 489.04 
L 453.91 486.41 
L 454.81 483.42 
L 455.37 480.54 
L 455.94 476.17 
L 456.72 467.53 
L 457.96 454.04 
L 459.09 444.48 
L 462.12 420.23 
L 466.06 384.32 
L 468.31 365.41 
L 470.79 344.26 
L 472.70 330.44 
L 474.16 321.08 
L 474.84 318.11 
L 475.40 316.48 
L 475.85 315.70 
L 476.30 315.33 
L 476.64 315.36 
L 476.97 315.70 
L 477.31 316.40 
L 477.76 317.97 
L 478.32 320.87 
L 479.11 326.20 
L 480.57 337.97 
L 486.09 385.42 
L 488.11 407.81 
L 489.24 417.36 
L 490.25 424.03 
L 491.94 434.42 
L 492.61 440.12 
L 493.29 447.64 
L 493.96 457.59 
L 495.42 480.69 
L 495.99 485.93 
L 496.55 489.24 
L 497.11 491.22 
L 497.79 492.69 
L 498.46 494.17 
L 499.14 496.33 
L 500.15 500.51 
L 502.17 509.12 
L 503.19 512.35 
L 504.20 514.88 
L 505.32 517.08 
L 506.56 518.99 
L 508.02 520.88 
L 509.49 522.42 
L 510.84 523.55 
L 512.19 524.40 
L 513.54 525.00 
L 515.00 525.40 
L 516.69 525.63 
L 518.82 525.67 
L 525.35 525.61 
L 528.84 525.92 
L 533.22 526.54 
L 540.99 527.90 
L 547.29 529.22 
L 553.02 530.65 
L 561.69 532.82 
L 565.85 533.61 
L 570.01 534.17 
L 574.29 534.52 
L 578.56 534.64 
L 583.29 534.55 
L 589.81 534.18 
L 601.06 533.51 
L 607.81 533.40 
L 617.04 533.48 
L 646.51 534.11 
L 653.94 534.58 
L 666.20 535.39 
L 673.51 535.59 
L 683.19 535.61 
L 705.01 535.59 
L 721.89 535.90 
L 727.62 536.03 
L 727.62 536.03 
" clip-path="url(#p2ca9b5ae20)" style="fill: none; stroke: #d3d3d3; stroke-width: 2; stroke-linecap: square"/>
</g>
<g id="line2d_40">
<path d="M 64.21 523.71 
L 67.81 526.33 
L 69.72 527.46 
L 71.64 528.33 
L 73.77 529.06 
L 76.25 529.66 
L 78.05 529.88 
L 79.51 529.83 
L 81.09 529.54 
L 82.89 528.97 
L 85.14 528.02 
L 86.49 527.23 
L 87.61 526.32 
L 88.74 525.08 
L 89.86 523.49 
L 90.99 521.50 
L 92.56 518.20 
L 94.36 513.93 
L 96.05 509.31 
L 97.96 503.42 
L 99.20 498.91 
L 100.89 492.62 
L 101.56 490.88 
L 102.01 490.17 
L 102.35 489.93 
L 102.69 489.94 
L 103.02 490.18 
L 103.47 490.86 
L 104.04 492.22 
L 104.94 495.12 
L 106.51 500.12 
L 109.77 510.11 
L 112.36 517.91 
L 113.71 521.26 
L 114.95 523.78 
L 116.19 525.80 
L 117.42 527.41 
L 118.89 528.94 
L 120.91 530.74 
L 122.94 532.25 
L 124.85 533.39 
L 126.87 534.32 
L 130.25 535.57 
L 136.77 537.85 
L 139.25 538.38 
L 142.06 538.75 
L 145.55 538.97 
L 162.54 539.70 
L 174.80 540.77 
L 184.25 541.49 
L 190.66 541.76 
L 196.17 541.77 
L 202.70 541.54 
L 221.04 540.75 
L 228.80 540.71 
L 242.07 540.75 
L 245.00 540.43 
L 247.59 539.93 
L 249.72 539.30 
L 251.75 538.47 
L 253.66 537.44 
L 255.69 536.09 
L 257.94 534.32 
L 260.75 531.77 
L 263.34 529.53 
L 264.91 528.45 
L 266.37 527.72 
L 267.84 527.23 
L 269.30 526.96 
L 270.76 526.92 
L 272.34 527.10 
L 273.91 527.51 
L 275.60 528.19 
L 277.51 529.21 
L 279.87 530.73 
L 287.97 536.21 
L 290.11 537.20 
L 292.25 537.94 
L 294.61 538.53 
L 297.20 538.92 
L 300.12 539.14 
L 303.84 539.17 
L 315.87 539.09 
L 321.84 539.05 
L 326.56 538.76 
L 340.96 537.53 
L 345.12 536.92 
L 347.60 536.37 
L 349.51 535.72 
L 351.20 534.94 
L 352.77 533.96 
L 354.12 532.86 
L 355.47 531.47 
L 356.82 529.73 
L 358.17 527.58 
L 359.52 524.97 
L 360.87 521.85 
L 362.22 518.15 
L 363.57 513.79 
L 364.70 509.44 
L 365.71 504.65 
L 367.17 496.43 
L 369.54 483.28 
L 371.00 476.28 
L 372.24 471.39 
L 373.36 467.80 
L 374.60 464.60 
L 375.95 461.72 
L 377.64 458.68 
L 379.21 456.29 
L 383.49 450.43 
L 384.39 449.61 
L 385.17 449.17 
L 385.85 449.03 
L 386.64 449.12 
L 387.42 449.45 
L 388.32 450.05 
L 389.45 451.09 
L 391.02 452.87 
L 394.40 456.80 
L 395.75 457.98 
L 396.76 458.61 
L 397.66 458.94 
L 398.90 459.13 
L 401.04 459.40 
L 401.94 459.75 
L 402.72 460.28 
L 403.85 461.38 
L 405.54 463.04 
L 406.77 464.13 
L 407.45 465.09 
L 408.01 466.29 
L 408.57 467.98 
L 409.36 471.24 
L 410.82 477.55 
L 411.50 479.49 
L 412.29 481.11 
L 413.86 484.14 
L 414.54 486.09 
L 415.32 489.12 
L 416.67 495.41 
L 418.47 503.59 
L 419.71 508.17 
L 420.95 511.95 
L 422.19 515.04 
L 423.42 517.53 
L 424.66 519.51 
L 425.90 521.05 
L 427.14 522.23 
L 428.37 523.11 
L 429.61 523.72 
L 430.96 524.13 
L 432.42 524.32 
L 434.00 524.30 
L 435.69 524.03 
L 437.49 523.53 
L 439.51 522.73 
L 440.86 521.98 
L 442.10 521.02 
L 443.22 519.85 
L 444.35 518.31 
L 445.47 516.37 
L 446.71 513.73 
L 447.95 510.57 
L 449.30 506.48 
L 450.42 502.35 
L 451.44 497.69 
L 452.45 491.87 
L 453.57 483.92 
L 454.81 473.47 
L 456.05 461.36 
L 456.84 451.32 
L 457.51 439.63 
L 459.54 401.55 
L 460.32 391.46 
L 461.22 382.71 
L 463.47 362.26 
L 467.64 320.88 
L 468.20 317.43 
L 468.65 316.03 
L 469.10 315.41 
L 469.89 314.89 
L 470.45 314.77 
L 470.79 314.90 
L 471.12 315.31 
L 471.46 316.13 
L 471.80 317.50 
L 472.25 320.39 
L 472.92 326.87 
L 475.06 349.06 
L 477.65 374.90 
L 480.46 404.68 
L 481.81 415.81 
L 483.05 425.95 
L 483.72 433.25 
L 484.40 442.95 
L 485.64 465.58 
L 486.54 479.92 
L 487.21 487.22 
L 487.77 491.04 
L 488.34 493.48 
L 489.35 496.53 
L 489.91 498.61 
L 490.81 503.01 
L 492.84 513.35 
L 493.85 517.05 
L 494.86 519.86 
L 495.87 522.05 
L 497.22 524.41 
L 498.57 526.36 
L 500.04 528.07 
L 501.50 529.43 
L 503.07 530.60 
L 504.76 531.56 
L 506.67 532.39 
L 509.04 533.14 
L 511.85 533.82 
L 514.66 534.27 
L 517.47 534.48 
L 520.96 534.51 
L 531.65 534.41 
L 535.59 534.73 
L 539.97 535.31 
L 544.92 536.20 
L 560.56 539.19 
L 571.59 540.74 
L 576.65 541.33 
L 580.02 541.49 
L 583.62 541.44 
L 587.79 541.14 
L 593.75 540.47 
L 603.09 539.42 
L 609.72 538.94 
L 616.59 538.66 
L 623.67 538.60 
L 631.21 538.76 
L 639.42 539.16 
L 648.54 539.83 
L 663.95 541.04 
L 669.80 541.20 
L 676.89 541.15 
L 688.92 540.80 
L 699.05 540.61 
L 709.06 540.66 
L 722.45 540.97 
L 727.62 541.12 
L 727.62 541.12 
" clip-path="url(#p2ca9b5ae20)" style="fill: none; stroke: #d3d3d3; stroke-width: 2; stroke-linecap: square"/>
</g>
<g id="line2d_41">
<path d="M 64.12 466.69 
L 66.93 464.86 
L 68.4 464.15 
L 69.63 463.79 
L 70.53 463.77 
L 71.21 463.96 
L 71.88 464.36 
L 72.56 465.02 
L 73.23 465.99 
L 74.02 467.55 
L 76.95 474.04 
L 78.18 475.77 
L 79.65 477.84 
L 83.92 484.49 
L 86.28 487.36 
L 87.3 488.30 
L 88.08 488.75 
L 88.87 488.96 
L 89.77 488.95 
L 90.9 488.70 
L 92.36 488.15 
L 96.97 486.21 
L 98.1 486.06 
L 99.33 486.14 
L 100.8 486.49 
L 103.5 487.20 
L 104.51 487.19 
L 105.52 486.95 
L 106.53 486.46 
L 107.21 485.92 
L 107.88 485.10 
L 108.56 483.92 
L 109.68 481.42 
L 112.83 473.82 
L 113.85 470.09 
L 116.88 458.35 
L 118.57 453.06 
L 120.48 447.76 
L 121.72 444.95 
L 122.62 443.38 
L 123.41 442.42 
L 124.08 441.93 
L 124.65 441.77 
L 125.21 441.86 
L 125.77 442.18 
L 126.33 442.76 
L 127.01 443.80 
L 127.68 445.25 
L 128.47 447.51 
L 129.48 451.23 
L 132.3 462.98 
L 134.43 472.50 
L 136.91 484.81 
L 138.37 491.33 
L 139.83 496.83 
L 141.41 501.87 
L 142.98 506.16 
L 144.56 509.80 
L 146.02 512.61 
L 147.37 514.75 
L 148.72 516.49 
L 150.18 518.01 
L 151.65 519.22 
L 153.22 520.24 
L 154.91 521.06 
L 156.82 521.75 
L 159.41 522.43 
L 162.56 523.01 
L 166.72 523.53 
L 170.21 523.77 
L 172.91 523.75 
L 175.05 523.52 
L 176.73 523.13 
L 178.2 522.57 
L 179.66 521.77 
L 181.23 520.64 
L 182.92 519.14 
L 184.72 517.25 
L 187.31 514.14 
L 191.47 509.15 
L 193.38 507.20 
L 194.96 505.88 
L 196.42 504.95 
L 198 504.21 
L 199.8 503.62 
L 201.48 503.27 
L 202.5 503.32 
L 203.62 503.61 
L 204.97 504.22 
L 207 505.41 
L 213.18 509.15 
L 219.6 512.66 
L 222.3 514.58 
L 223.08 514.82 
L 223.76 514.79 
L 224.43 514.50 
L 225.11 513.96 
L 226.01 512.91 
L 227.02 511.36 
L 228.37 508.85 
L 230.51 504.36 
L 234 497.04 
L 235.8 493.80 
L 237.48 491.22 
L 238.95 489.36 
L 240.18 488.10 
L 241.31 487.26 
L 242.21 486.84 
L 243.11 486.67 
L 243.9 486.75 
L 244.68 487.04 
L 245.58 487.64 
L 246.48 488.53 
L 247.5 489.86 
L 248.62 491.75 
L 249.97 494.50 
L 251.55 498.25 
L 255.26 507.33 
L 257.17 511.28 
L 258.97 514.50 
L 260.43 516.70 
L 261.78 518.33 
L 262.91 519.36 
L 264.03 520.10 
L 265.16 520.57 
L 266.28 520.81 
L 267.52 520.87 
L 268.87 520.71 
L 270.45 520.30 
L 272.47 519.52 
L 274.95 518.32 
L 277.08 517.05 
L 279.11 515.59 
L 280.91 514.05 
L 282.48 512.40 
L 283.83 510.68 
L 284.96 508.91 
L 285.97 506.91 
L 286.98 504.39 
L 288 501.24 
L 289.46 495.85 
L 292.16 485.82 
L 293.73 481.03 
L 295.42 476.64 
L 297.33 472.29 
L 298.91 469.17 
L 300.26 466.95 
L 301.38 465.49 
L 302.4 464.50 
L 303.41 463.81 
L 304.31 463.44 
L 305.21 463.30 
L 306.11 463.39 
L 307.01 463.69 
L 308.02 464.29 
L 309.03 465.17 
L 310.16 466.47 
L 311.4 468.26 
L 313.31 471.50 
L 315.9 475.82 
L 318.03 478.92 
L 319.95 481.35 
L 321.18 482.57 
L 322.08 483.18 
L 322.98 483.52 
L 323.88 483.61 
L 324.9 483.47 
L 326.13 483.05 
L 328.72 481.88 
L 329.85 481.13 
L 330.75 480.28 
L 331.76 479.01 
L 334.23 475.72 
L 337.38 472.34 
L 338.28 470.72 
L 341.77 463.86 
L 342.9 461.88 
L 345.03 457.64 
L 345.6 457.17 
L 346.16 456.98 
L 346.83 457.02 
L 347.62 457.30 
L 349.2 458.16 
L 350.21 458.93 
L 351 459.78 
L 351.9 461.13 
L 353.02 463.28 
L 354.82 467.31 
L 357.75 473.83 
L 359.77 477.82 
L 361.35 480.46 
L 362.7 482.29 
L 363.82 483.44 
L 364.72 484.06 
L 365.4 484.28 
L 366.07 484.27 
L 366.75 483.99 
L 367.53 483.39 
L 368.55 482.28 
L 370.01 480.27 
L 375.07 473.10 
L 376.87 471.02 
L 378.45 469.53 
L 379.8 468.54 
L 381.6 467.53 
L 383.73 466.30 
L 384.86 465.40 
L 385.98 464.22 
L 387.67 462.08 
L 390.82 458.03 
L 393.41 454.98 
L 394.65 453.05 
L 396.11 450.83 
L 396.9 450.05 
L 397.8 449.52 
L 399.37 448.92 
L 399.93 448.94 
L 400.61 449.23 
L 401.96 450.19 
L 402.86 451.03 
L 403.53 451.98 
L 404.21 453.33 
L 405.22 455.93 
L 407.47 462.62 
L 408.26 465.48 
L 408.93 468.66 
L 409.72 473.51 
L 412.2 489.81 
L 413.66 496.65 
L 414.9 501.75 
L 415.8 504.60 
L 416.81 507.11 
L 418.38 510.33 
L 420.07 513.35 
L 421.31 515.11 
L 422.32 516.17 
L 423.22 516.80 
L 424.23 517.24 
L 425.36 517.46 
L 426.82 517.50 
L 429.18 517.32 
L 431.43 516.92 
L 433.57 516.31 
L 435.48 515.55 
L 437.28 514.60 
L 439.08 513.39 
L 440.43 512.24 
L 441.67 510.88 
L 442.8 509.31 
L 444.03 507.15 
L 446.28 502.64 
L 448.76 497.19 
L 449.77 494.57 
L 450.45 492.11 
L 451.12 488.64 
L 451.8 483.78 
L 452.7 475.18 
L 455.51 446.76 
L 456.97 435.05 
L 458.77 420.39 
L 460.68 404.75 
L 465.07 374.20 
L 467.43 358.35 
L 469.01 349.13 
L 470.25 343.09 
L 471.37 338.64 
L 472.83 333.78 
L 476.66 322.11 
L 477.9 319.06 
L 478.91 317.11 
L 479.7 316.00 
L 480.48 315.27 
L 481.16 314.91 
L 481.83 314.77 
L 482.51 314.83 
L 483.18 315.11 
L 483.86 315.66 
L 484.53 316.52 
L 485.32 317.94 
L 486.22 320.06 
L 487.23 323.01 
L 488.36 327.00 
L 489.48 331.87 
L 490.61 337.80 
L 491.96 346.15 
L 493.98 360.29 
L 497.02 382.50 
L 497.81 391.22 
L 499.5 413.18 
L 501.52 442.15 
L 502.98 462.73 
L 503.66 469.34 
L 504.33 474.00 
L 505.12 477.85 
L 507.26 486.30 
L 508.5 490.64 
L 509.51 493.40 
L 510.52 495.54 
L 511.65 497.38 
L 513.11 499.31 
L 514.91 501.33 
L 516.93 503.26 
L 519.3 505.19 
L 522.33 507.38 
L 527.06 510.46 
L 532.57 513.83 
L 536.85 516.19 
L 540.9 518.17 
L 545.17 520.01 
L 549.56 521.65 
L 553.83 523.02 
L 558.11 524.14 
L 562.83 525.15 
L 568.57 526.13 
L 574.42 526.93 
L 578.02 527.21 
L 581.28 527.23 
L 585.33 527.03 
L 599.96 526.09 
L 603.78 526.24 
L 608.17 526.64 
L 613.68 527.38 
L 634.16 530.34 
L 639.56 530.79 
L 645.41 531.04 
L 652.5 531.12 
L 664.31 530.99 
L 681.75 530.87 
L 700.65 530.96 
L 727.08 531.35 
L 727.65 531.36 
L 727.65 531.36 
" clip-path="url(#p2ca9b5ae20)" style="fill: none; stroke: #708090; stroke-width: 2; stroke-linecap: square"/>
</g>
<g id="line2d_42">
<path d="M 64.12 478.8 
L 67.5 488.33 
L 70.31 497.17 
L 73.57 507.29 
L 75.03 511.17 
L 76.16 513.57 
L 77.17 515.20 
L 78.18 516.38 
L 79.2 517.23 
L 80.21 517.82 
L 81.22 518.17 
L 82.23 518.29 
L 83.25 518.19 
L 84.26 517.87 
L 85.38 517.28 
L 86.51 516.43 
L 87.63 515.33 
L 88.65 514.04 
L 89.66 512.40 
L 90.78 510.13 
L 92.13 506.87 
L 93.82 502.16 
L 95.62 496.46 
L 100.57 480.18 
L 103.83 470.49 
L 105.52 464.33 
L 108.22 454.40 
L 110.02 448.84 
L 112.5 441.88 
L 113.51 439.63 
L 114.41 438.16 
L 115.2 437.28 
L 115.98 436.70 
L 116.88 436.31 
L 117.78 436.14 
L 118.68 436.22 
L 119.47 436.51 
L 120.26 437.06 
L 120.93 437.78 
L 121.72 438.99 
L 122.51 440.61 
L 123.41 442.95 
L 124.42 446.21 
L 125.77 451.36 
L 128.02 460.93 
L 130.38 472.00 
L 132.86 483.34 
L 135.9 496.18 
L 137.7 502.59 
L 140.62 512.17 
L 141.75 515.09 
L 142.76 517.13 
L 143.88 518.89 
L 145.12 520.39 
L 146.58 521.80 
L 148.16 522.98 
L 149.96 524.03 
L 152.21 525.07 
L 154.8 526.03 
L 157.83 526.90 
L 161.66 527.78 
L 165.71 528.47 
L 169.76 528.93 
L 173.47 529.13 
L 176.85 529.11 
L 179.66 528.87 
L 182.13 528.44 
L 184.38 527.84 
L 186.52 527.03 
L 188.55 526.04 
L 190.57 524.80 
L 192.15 523.59 
L 193.61 522.18 
L 194.96 520.57 
L 196.42 518.45 
L 200.02 513.04 
L 202.05 510.40 
L 203.17 508.22 
L 206.66 501.05 
L 207.67 499.64 
L 208.68 498.62 
L 209.58 498.00 
L 210.48 497.63 
L 211.38 497.48 
L 212.4 497.54 
L 213.41 497.82 
L 214.53 498.36 
L 215.66 499.15 
L 216.9 500.28 
L 218.25 501.81 
L 219.82 503.96 
L 221.62 506.82 
L 223.87 510.84 
L 226.8 516.06 
L 228.37 518.39 
L 229.83 520.18 
L 231.18 521.52 
L 232.31 522.35 
L 233.21 522.76 
L 234 522.90 
L 234.78 522.81 
L 235.68 522.47 
L 236.7 521.85 
L 238.05 520.74 
L 240.3 518.55 
L 242.32 516.29 
L 244.12 513.95 
L 246.15 510.92 
L 252.22 501.53 
L 253.8 499.60 
L 255.15 498.26 
L 256.5 497.23 
L 257.73 496.58 
L 258.86 496.24 
L 259.87 496.14 
L 260.88 496.26 
L 262.01 496.62 
L 263.25 497.26 
L 264.6 498.23 
L 266.17 499.66 
L 268.08 501.71 
L 274.83 509.26 
L 276.07 510.17 
L 276.97 510.60 
L 277.76 510.75 
L 278.43 510.65 
L 279.11 510.33 
L 279.9 509.72 
L 280.8 508.70 
L 281.81 507.17 
L 282.82 505.25 
L 283.95 502.59 
L 285.07 499.33 
L 286.42 494.67 
L 288.33 487.20 
L 292.16 472.11 
L 293.51 467.75 
L 294.52 465.21 
L 295.31 463.79 
L 296.1 462.83 
L 296.88 462.24 
L 297.67 461.93 
L 298.46 461.85 
L 299.13 462.02 
L 299.7 462.37 
L 300.26 462.97 
L 300.93 464.03 
L 301.72 465.79 
L 302.73 468.67 
L 305.21 476.67 
L 308.02 485.48 
L 309.26 488.70 
L 310.27 490.74 
L 311.06 491.90 
L 311.85 492.67 
L 312.52 493.03 
L 313.08 493.11 
L 313.65 492.98 
L 314.21 492.62 
L 314.77 492.02 
L 315.45 490.93 
L 316.12 489.39 
L 316.91 487.00 
L 318.15 482.29 
L 320.06 475.04 
L 321.3 470.21 
L 322.2 465.68 
L 324.22 454.90 
L 324.9 452.61 
L 325.68 450.75 
L 326.58 449.26 
L 328.16 447.15 
L 329.17 446.12 
L 330.07 445.54 
L 330.97 445.25 
L 331.87 445.20 
L 332.88 445.37 
L 334.01 445.78 
L 335.25 446.46 
L 336.26 447.28 
L 337.16 448.29 
L 338.28 449.96 
L 339.97 452.95 
L 342.45 457.29 
L 344.25 460.00 
L 345.82 461.99 
L 347.28 463.50 
L 348.63 464.57 
L 349.87 465.28 
L 353.36 467.05 
L 354.37 467.94 
L 355.38 469.18 
L 356.51 470.91 
L 357.97 473.62 
L 362.25 481.91 
L 363.26 483.25 
L 364.05 483.97 
L 364.72 484.31 
L 365.4 484.38 
L 366.07 484.19 
L 366.75 483.78 
L 367.53 483.04 
L 368.55 481.78 
L 369.9 479.68 
L 374.51 472.13 
L 376.08 470.18 
L 377.55 468.70 
L 379.12 467.44 
L 380.81 466.40 
L 382.83 465.42 
L 384.97 464.35 
L 386.21 463.49 
L 387.33 462.43 
L 388.35 461.18 
L 389.36 459.60 
L 390.37 457.61 
L 391.5 454.88 
L 392.62 451.52 
L 395.77 441.43 
L 396.67 439.56 
L 397.35 438.59 
L 398.02 437.98 
L 398.7 437.69 
L 399.26 437.67 
L 399.93 437.90 
L 400.61 438.39 
L 401.4 439.28 
L 402.18 440.51 
L 403.08 442.34 
L 404.1 444.92 
L 405.11 448.09 
L 406.23 452.37 
L 407.47 458.04 
L 409.27 467.48 
L 410.62 475.48 
L 412.08 485.95 
L 412.98 491.43 
L 413.88 495.32 
L 416.25 503.86 
L 417.6 508.03 
L 418.61 510.51 
L 419.62 512.46 
L 420.63 513.95 
L 421.65 515.07 
L 422.77 515.97 
L 423.9 516.58 
L 425.13 516.97 
L 426.48 517.16 
L 428.28 517.17 
L 430.08 516.97 
L 431.88 516.54 
L 433.68 515.89 
L 435.82 514.87 
L 438.97 513.10 
L 440.21 512.23 
L 441.11 511.35 
L 442.01 510.15 
L 442.91 508.51 
L 443.81 506.36 
L 445.05 502.78 
L 446.73 497.24 
L 447.52 493.84 
L 448.2 489.87 
L 449.1 482.92 
L 450.22 474.52 
L 450.9 469.36 
L 451.46 462.67 
L 452.58 444.99 
L 453.6 430.87 
L 454.61 419.71 
L 455.73 409.73 
L 456.75 402.75 
L 458.55 391.51 
L 459.78 381.00 
L 461.7 364.96 
L 463.38 352.93 
L 465.07 342.27 
L 466.31 335.70 
L 467.43 330.82 
L 468.67 326.43 
L 469.91 322.85 
L 471.03 320.21 
L 472.05 318.33 
L 473.06 316.90 
L 474.07 315.86 
L 475.08 315.13 
L 476.1 314.67 
L 476.88 314.56 
L 477.45 314.68 
L 478.01 315.02 
L 478.68 315.73 
L 479.58 317.06 
L 481.05 319.70 
L 482.17 322.18 
L 483.07 324.68 
L 484.08 328.15 
L 485.55 334.05 
L 487.23 341.75 
L 488.47 348.52 
L 490.05 358.77 
L 491.96 370.91 
L 493.65 381.54 
L 494.77 390.20 
L 496.35 404.24 
L 497.58 417.19 
L 499.05 435.35 
L 500.51 452.66 
L 501.52 462.11 
L 502.31 467.45 
L 503.21 471.90 
L 505.35 481.65 
L 507.37 491.66 
L 508.38 495.35 
L 509.4 498.19 
L 510.52 500.66 
L 511.87 503.08 
L 513.22 505.05 
L 514.68 506.79 
L 516.37 508.43 
L 518.17 509.85 
L 520.08 511.08 
L 522.22 512.18 
L 524.81 513.26 
L 527.85 514.27 
L 532.46 515.54 
L 546.41 519.32 
L 553.83 521.58 
L 567.45 525.85 
L 570.6 526.49 
L 573.86 526.91 
L 577.8 527.19 
L 582.97 527.33 
L 589.95 527.27 
L 603 527.12 
L 608.51 527.32 
L 615.93 527.84 
L 626.85 528.60 
L 634.27 528.84 
L 642.93 528.90 
L 654.86 528.74 
L 678.48 528.39 
L 698.51 528.36 
L 727.65 528.57 
L 727.65 528.57 
" clip-path="url(#p2ca9b5ae20)" style="fill: none; stroke: #708090; stroke-width: 2; stroke-linecap: square"/>
</g>
<g id="patch_16">
<path d="M 63.67 547.83 
L 63.67 291.64 
" style="fill: none; stroke: #000000; stroke-width: 0.8; stroke-linejoin: miter; stroke-linecap: square"/>
</g>
<g id="patch_17">
<path d="M 727.60 547.83 
L 727.60 291.64 
" style="fill: none; stroke: #000000; stroke-width: 0.8; stroke-linejoin: miter; stroke-linecap: square"/>
</g>
<g id="patch_18">
<path d="M 63.67 547.83 
L 727.60 547.83 
" style="fill: none; stroke: #000000; stroke-width: 0.8; stroke-linejoin: miter; stroke-linecap: square"/>
</g>
<g id="patch_19">
<path d="M 63.67 291.64 
L 727.60 291.64 
" style="fill: none; stroke: #000000; stroke-width: 0.8; stroke-linejoin: miter; stroke-linecap: square"/>
</g>
<g id="patch_20">
<path d="M 737.20 535.5 
L 858.04 535.5 
Q 860.85 535.5 860.85 532.69 
L 860.85 306.41 
Q 860.85 303.61 858.04 303.61 
L 737.20 303.61 
Q 734.4 303.61 734.4 306.41 
L 734.4 532.69 
Q 734.4 535.5 737.20 535.5 
z
" style="fill: #ffffff; opacity: 0.8; stroke: #cccccc; stroke-linejoin: miter"/>
</g>
<g id="legend_1">
<g id="line2d_43">
<path d="M 740 314.95 
L 754 314.95 
L 768 314.95 
" style="fill: none; stroke: #0000ff; stroke-width: 2; stroke-linecap: square"/>
</g>
<g id="text_32">
<!-- $ND_3$ -->
<g transform="translate(779.2 320.88)">
<text>
<tspan x="0" y="-0.79" style="font-style: oblique; font-size: 14px; font-family: 'DejaVu Sans'">N</tspan>
<tspan x="10.47" y="-0.79" style="font-style: oblique; font-size: 14px; font-family: 'DejaVu Sans'">D</tspan>
<tspan x="21.25" y="1.5" style="font-size: 9.8px; font-family: 'DejaVu Sans'">3</tspan>
</text>
</g>
</g>
<g id="line2d_44">
<path d="M 740 335.50 
L 754 335.50 
L 768 335.50 
" style="fill: none; stroke: #ff0000; stroke-width: 2; stroke-linecap: square"/>
</g>
<g id="text_33">
<!-- $C_1=O_1$ -->
<g transform="translate(779.2 341.39)">
<text>
<tspan x="0" y="-0.60" style="font-style: oblique; font-size: 14px; font-family: 'DejaVu Sans'">C</tspan>
<tspan x="33.57" y="-0.60" style="font-style: oblique; font-size: 14px; font-family: 'DejaVu Sans'">O</tspan>
<tspan x="9.77" y="1.68" style="font-size: 9.8px; font-family: 'DejaVu Sans'">1</tspan>
<tspan x="44.59" y="1.68" style="font-size: 9.8px; font-family: 'DejaVu Sans'">1</tspan>
<tspan x="19.12" y="-0.60" style="font-size: 14px; font-family: 'DejaVu Sans'">=</tspan>
</text>
</g>
</g>
<g id="line2d_45">
<path d="M 740 356.05 
L 754 356.05 
L 768 356.05 
" style="fill: none; stroke: #1e90ff; stroke-width: 2; stroke-linecap: square"/>
</g>
<g id="text_34">
<!-- $N_1-D_1$ -->
<g transform="translate(779.2 361.58)">
<text>
<tspan x="0" y="-0.79" style="font-style: oblique; font-size: 14px; font-family: 'DejaVu Sans'">N</tspan>
<tspan x="34.27" y="-0.79" style="font-style: oblique; font-size: 14px; font-family: 'DejaVu Sans'">D</tspan>
<tspan x="10.47" y="1.5" style="font-size: 9.8px; font-family: 'DejaVu Sans'">1</tspan>
<tspan x="45.05" y="1.5" style="font-size: 9.8px; font-family: 'DejaVu Sans'">1</tspan>
<tspan x="19.81" y="-0.79" style="font-size: 14px; font-family: 'DejaVu Sans'">−</tspan>
</text>
</g>
</g>
<g id="line2d_46">
<path d="M 740 376.60 
L 754 376.60 
L 768 376.60 
" style="fill: none; stroke-dasharray: 12.8,3.2,2,3.2; stroke-dashoffset: 0; stroke: #ff0000; stroke-width: 2"/>
</g>
<g id="text_35">
<!-- $C_2=O_2$ -->
<g transform="translate(779.2 382.53)">
<text>
<tspan x="0" y="-0.60" style="font-style: oblique; font-size: 14px; font-family: 'DejaVu Sans'">C</tspan>
<tspan x="33.57" y="-0.60" style="font-style: oblique; font-size: 14px; font-family: 'DejaVu Sans'">O</tspan>
<tspan x="9.77" y="1.68" style="font-size: 9.8px; font-family: 'DejaVu Sans'">2</tspan>
<tspan x="44.59" y="1.68" style="font-size: 9.8px; font-family: 'DejaVu Sans'">2</tspan>
<tspan x="19.12" y="-0.60" style="font-size: 14px; font-family: 'DejaVu Sans'">=</tspan>
</text>
</g>
</g>
<g id="line2d_47">
<path d="M 740 397.15 
L 754 397.15 
L 768 397.15 
" style="fill: none; stroke-dasharray: 12.8,3.2,2,3.2; stroke-dashoffset: 0; stroke: #1e90ff; stroke-width: 2"/>
</g>
<g id="text_36">
<!-- $N_2-D_2$ -->
<g transform="translate(779.2 402.59)">
<text>
<tspan x="0" y="-0.79" style="font-style: oblique; font-size: 14px; font-family: 'DejaVu Sans'">N</tspan>
<tspan x="34.27" y="-0.79" style="font-style: oblique; font-size: 14px; font-family: 'DejaVu Sans'">D</tspan>
<tspan x="10.47" y="1.5" style="font-size: 9.8px; font-family: 'DejaVu Sans'">2</tspan>
<tspan x="45.05" y="1.5" style="font-size: 9.8px; font-family: 'DejaVu Sans'">2</tspan>
<tspan x="19.81" y="-0.79" style="font-size: 14px; font-family: 'DejaVu Sans'">−</tspan>
</text>
</g>
</g>
<g id="line2d_48">
<path d="M 740 417.69 
L 754 417.69 
L 768 417.69 
" style="fill: none; stroke-dasharray: 6,2,2,2,2,2; stroke-dashoffset: 0; stroke: #ff0000; stroke-width: 2"/>
</g>
<g id="text_37">
<!-- $C_3=O_3$ -->
<g transform="translate(779.2 423.36)">
<text>
<tspan x="0" y="-0.60" style="font-style: oblique; font-size: 14px; font-family: 'DejaVu Sans'">C</tspan>
<tspan x="33.57" y="-0.60" style="font-style: oblique; font-size: 14px; font-family: 'DejaVu Sans'">O</tspan>
<tspan x="9.77" y="1.68" style="font-size: 9.8px; font-family: 'DejaVu Sans'">3</tspan>
<tspan x="44.59" y="1.68" style="font-size: 9.8px; font-family: 'DejaVu Sans'">3</tspan>
<tspan x="19.12" y="-0.60" style="font-size: 14px; font-family: 'DejaVu Sans'">=</tspan>
</text>
</g>
</g>
<g id="line2d_49">
<path d="M 740 438.24 
L 754 438.24 
L 768 438.24 
" style="fill: none; stroke-dasharray: 6,2,2,2,2,2; stroke-dashoffset: 0; stroke: #1e90ff; stroke-width: 2"/>
</g>
<g id="text_38">
<!-- $N_3-D_3$ -->
<g transform="translate(779.2 443.91)">
<text>
<tspan x="0" y="-0.79" style="font-style: oblique; font-size: 14px; font-family: 'DejaVu Sans'">N</tspan>
<tspan x="34.27" y="-0.79" style="font-style: oblique; font-size: 14px; font-family: 'DejaVu Sans'">D</tspan>
<tspan x="10.47" y="1.5" style="font-size: 9.8px; font-family: 'DejaVu Sans'">3</tspan>
<tspan x="45.05" y="1.5" style="font-size: 9.8px; font-family: 'DejaVu Sans'">3</tspan>
<tspan x="19.81" y="-0.79" style="font-size: 14px; font-family: 'DejaVu Sans'">−</tspan>
</text>
</g>
</g>
<g id="line2d_50">
<path d="M 740 458.79 
L 754 458.79 
L 768 458.79 
" style="fill: none; stroke: #800000; stroke-width: 2; stroke-linecap: square"/>
</g>
<g id="text_39">
<!-- $COO$ -->
<g transform="translate(779.2 464.32)">
<text>
<tspan x="0" y="-0.60" style="font-style: oblique; font-size: 14px; font-family: 'DejaVu Sans'">C</tspan>
<tspan x="9.77" y="-0.60" style="font-style: oblique; font-size: 14px; font-family: 'DejaVu Sans'">O</tspan>
<tspan x="20.79" y="-0.60" style="font-style: oblique; font-size: 14px; font-family: 'DejaVu Sans'">O</tspan>
</text>
</g>
</g>
<g id="line2d_51">
<path d="M 740 479.34 
L 754 479.34 
L 768 479.34 
" style="fill: none; stroke-dasharray: 7.4,3.2; stroke-dashoffset: 0; stroke: #5f9ea0; stroke-width: 2"/>
</g>
<g id="text_40">
<!-- $NC$ -->
<g transform="translate(779.2 484.33)">
<text>
<tspan x="0" y="-0.60" style="font-style: oblique; font-size: 14px; font-family: 'DejaVu Sans'">N</tspan>
<tspan x="10.47" y="-0.60" style="font-style: oblique; font-size: 14px; font-family: 'DejaVu Sans'">C</tspan>
</text>
</g>
</g>
<g id="line2d_52">
<path d="M 740 499.89 
L 754 499.89 
L 768 499.89 
" style="fill: none; stroke: #d3d3d3; stroke-width: 2; stroke-linecap: square"/>
</g>
<g id="text_41">
<!-- Ala-side$_{1,2}$ -->
<g transform="translate(779.2 504.79)">
<text>
<tspan x="0" y="-0.35" style="font-size: 14px; font-family: 'DejaVu Serif'">A</tspan>
<tspan x="10.11" y="-0.35" style="font-size: 14px; font-family: 'DejaVu Serif'">l</tspan>
<tspan x="14.58" y="-0.35" style="font-size: 14px; font-family: 'DejaVu Serif'">a</tspan>
<tspan x="22.93" y="-0.35" style="font-size: 14px; font-family: 'DejaVu Serif'">-</tspan>
<tspan x="27.66" y="-0.35" style="font-size: 14px; font-family: 'DejaVu Serif'">s</tspan>
<tspan x="34.84" y="-0.35" style="font-size: 14px; font-family: 'DejaVu Serif'">i</tspan>
<tspan x="39.32" y="-0.35" style="font-size: 14px; font-family: 'DejaVu Serif'">d</tspan>
<tspan x="48.28" y="-0.35" style="font-size: 14px; font-family: 'DejaVu Serif'">e</tspan>
<tspan x="56.70" y="1.93" style="font-size: 9.8px; font-family: 'DejaVu Sans'">1</tspan>
<tspan x="62.94" y="1.93" style="font-size: 9.8px; font-family: 'DejaVu Sans'">,</tspan>
<tspan x="67.96" y="1.93" style="font-size: 9.8px; font-family: 'DejaVu Sans'">2</tspan>
</text>
</g>
</g>
<g id="line2d_53">
<path d="M 740 521.03 
L 754 521.03 
L 768 521.03 
" style="fill: none; stroke: #708090; stroke-width: 2; stroke-linecap: square"/>
</g>
<g id="text_42">
<!-- Leu-side$_{1,2}$ -->
<g transform="translate(779.2 526.16)">
<text>
<tspan x="0" y="-0.35" style="font-size: 14px; font-family: 'DejaVu Serif'">L</tspan>
<tspan x="9.29" y="-0.35" style="font-size: 14px; font-family: 'DejaVu Serif'">e</tspan>
<tspan x="17.58" y="-0.35" style="font-size: 14px; font-family: 'DejaVu Serif'">u</tspan>
<tspan x="26.59" y="-0.35" style="font-size: 14px; font-family: 'DejaVu Serif'">-</tspan>
<tspan x="31.32" y="-0.35" style="font-size: 14px; font-family: 'DejaVu Serif'">s</tspan>
<tspan x="38.51" y="-0.35" style="font-size: 14px; font-family: 'DejaVu Serif'">i</tspan>
<tspan x="42.99" y="-0.35" style="font-size: 14px; font-family: 'DejaVu Serif'">d</tspan>
<tspan x="51.95" y="-0.35" style="font-size: 14px; font-family: 'DejaVu Serif'">e</tspan>
<tspan x="60.37" y="1.93" style="font-size: 9.8px; font-family: 'DejaVu Sans'">1</tspan>
<tspan x="66.60" y="1.93" style="font-size: 9.8px; font-family: 'DejaVu Sans'">,</tspan>
<tspan x="71.63" y="1.93" style="font-size: 9.8px; font-family: 'DejaVu Sans'">2</tspan>
</text>
</g>
</g>
</g>
</g>
<g id="text_43">
<!-- $\nu\ \delta\ ND_3$ -->
<g transform="translate(107.59 224.34)">
<text>
<tspan x="0" y="-0.85" style="font-style: oblique; font-size: 15px; font-family: 'DejaVu Sans'">ν</tspan>
<tspan x="13.24" y="-0.85" style="font-style: oblique; font-size: 15px; font-family: 'DejaVu Sans'">δ</tspan>
<tspan x="27.29" y="-0.85" style="font-style: oblique; font-size: 15px; font-family: 'DejaVu Sans'">N</tspan>
<tspan x="38.51" y="-0.85" style="font-style: oblique; font-size: 15px; font-family: 'DejaVu Sans'">D</tspan>
<tspan x="50.06" y="1.60" style="font-size: 10.5px; font-family: 'DejaVu Sans'">3</tspan>
</text>
</g>
</g>
<g id="text_44">
<!-- $\nu\ COO$ -->
<g transform="translate(262.55 198.87)">
<text>
<tspan x="0" y="-0.85" style="font-style: oblique; font-size: 15px; font-family: 'DejaVu Sans'">ν</tspan>
<tspan x="13.24" y="-0.85" style="font-style: oblique; font-size: 15px; font-family: 'DejaVu Sans'">C</tspan>
<tspan x="23.72" y="-0.85" style="font-style: oblique; font-size: 15px; font-family: 'DejaVu Sans'">O</tspan>
<tspan x="35.52" y="-0.85" style="font-style: oblique; font-size: 15px; font-family: 'DejaVu Sans'">O</tspan>
</text>
</g>
</g>
<g id="text_45">
<!-- $\delta\ N-D$ -->
<g transform="translate(329.15 187.04)">
<text>
<tspan x="0" y="-0.85" style="font-style: oblique; font-size: 15px; font-family: 'DejaVu Sans'">δ</tspan>
<tspan x="14.04" y="-0.85" style="font-style: oblique; font-size: 15px; font-family: 'DejaVu Sans'">N</tspan>
<tspan x="43.68" y="-0.85" style="font-style: oblique; font-size: 15px; font-family: 'DejaVu Sans'">D</tspan>
<tspan x="28.19" y="-0.85" style="font-size: 15px; font-family: 'DejaVu Sans'">−</tspan>
</text>
</g>
</g>
<g id="text_46">
<!-- $\nu\ N-C$ -->
<g transform="translate(328.81 203.82)">
<text>
<tspan x="0" y="-0.85" style="font-style: oblique; font-size: 15px; font-family: 'DejaVu Sans'">ν</tspan>
<tspan x="13.24" y="-0.85" style="font-style: oblique; font-size: 15px; font-family: 'DejaVu Sans'">N</tspan>
<tspan x="42.88" y="-0.85" style="font-style: oblique; font-size: 15px; font-family: 'DejaVu Sans'">C</tspan>
<tspan x="27.39" y="-0.85" style="font-size: 15px; font-family: 'DejaVu Sans'">−</tspan>
</text>
</g>
</g>
<g id="text_47">
<!-- $\delta\ C-H$ -->
<g transform="translate(445.09 224.52)">
<text>
<tspan x="0" y="-0.85" style="font-style: oblique; font-size: 15px; font-family: 'DejaVu Sans'">δ</tspan>
<tspan x="14.04" y="-0.85" style="font-style: oblique; font-size: 15px; font-family: 'DejaVu Sans'">C</tspan>
<tspan x="42.93" y="-0.85" style="font-style: oblique; font-size: 15px; font-family: 'DejaVu Sans'">H</tspan>
<tspan x="27.44" y="-0.85" style="font-size: 15px; font-family: 'DejaVu Sans'">−</tspan>
</text>
</g>
</g>
<g id="text_48">
<!-- $\nu\ COO$ -->
<g transform="translate(511.49 181.73)">
<text>
<tspan x="0" y="-0.85" style="font-style: oblique; font-size: 15px; font-family: 'DejaVu Sans'">ν</tspan>
<tspan x="13.24" y="-0.85" style="font-style: oblique; font-size: 15px; font-family: 'DejaVu Sans'">C</tspan>
<tspan x="23.72" y="-0.85" style="font-style: oblique; font-size: 15px; font-family: 'DejaVu Sans'">O</tspan>
<tspan x="35.52" y="-0.85" style="font-style: oblique; font-size: 15px; font-family: 'DejaVu Sans'">O</tspan>
</text>
</g>
</g>
<g id="text_49">
<!-- $\nu\ C=O$ -->
<g transform="translate(585.65 62.1)">
<text>
<tspan x="0" y="-0.85" style="font-style: oblique; font-size: 15px; font-family: 'DejaVu Sans'">ν</tspan>
<tspan x="13.24" y="-0.85" style="font-style: oblique; font-size: 15px; font-family: 'DejaVu Sans'">C</tspan>
<tspan x="42.13" y="-0.85" style="font-style: oblique; font-size: 15px; font-family: 'DejaVu Sans'">O</tspan>
<tspan x="26.64" y="-0.85" style="font-size: 15px; font-family: 'DejaVu Sans'">=</tspan>
</text>
</g>
</g>
<g id="text_50">
<!-- $\nu\ N-C$ -->
<g transform="translate(585.63 79.42)">
<text>
<tspan x="0" y="-0.85" style="font-style: oblique; font-size: 15px; font-family: 'DejaVu Sans'">ν</tspan>
<tspan x="13.24" y="-0.85" style="font-style: oblique; font-size: 15px; font-family: 'DejaVu Sans'">N</tspan>
<tspan x="42.88" y="-0.85" style="font-style: oblique; font-size: 15px; font-family: 'DejaVu Sans'">C</tspan>
<tspan x="27.39" y="-0.85" style="font-size: 15px; font-family: 'DejaVu Sans'">−</tspan>
</text>
</g>
</g>
</g>
<defs>
<clipPath id="p91a4ffddc2">
<rect x="63.67" y="9.63" width="663.93" height="256.36"/>
</clipPath>
<clipPath id="p2ca9b5ae20">
<rect x="63.67" y="291.64" width="663.93" height="256.18"/>
</clipPath>
</defs>
</svg>

</body></html>
